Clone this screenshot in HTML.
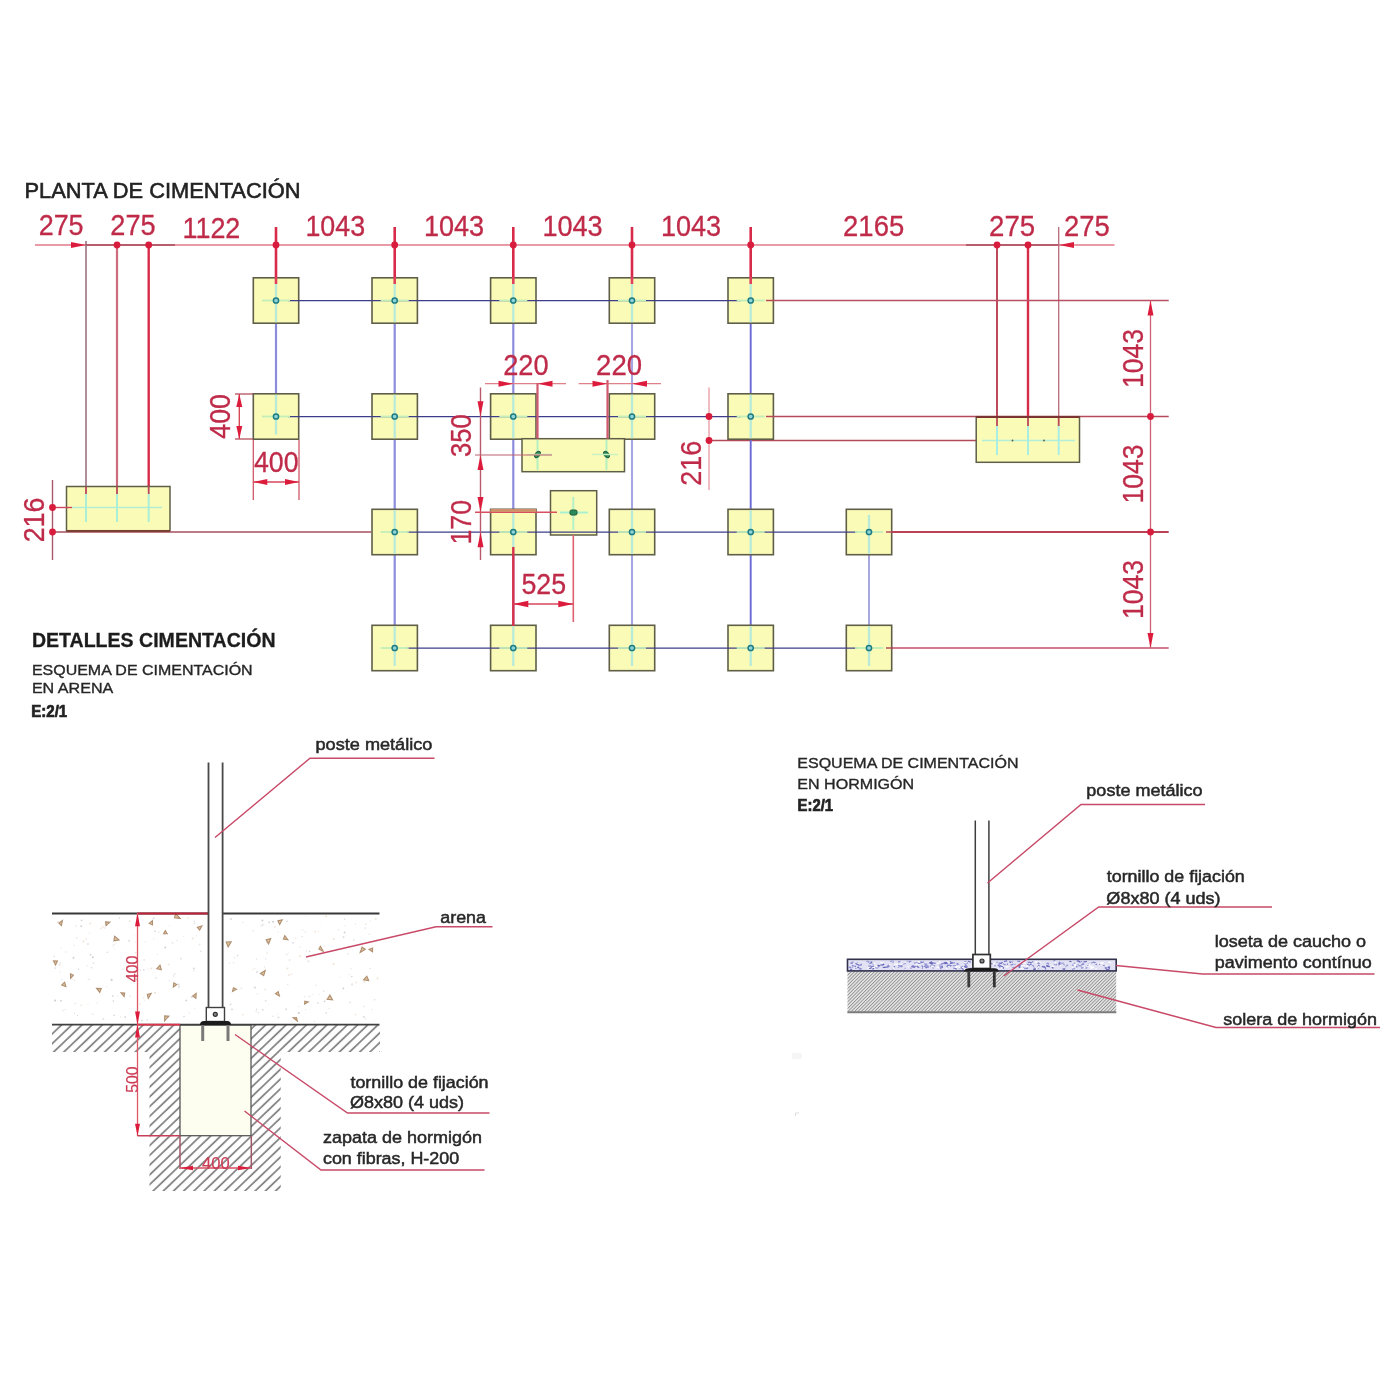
<!DOCTYPE html>
<html lang="es">
<head>
<meta charset="utf-8">
<title>Planta de cimentación</title>
<style>
html,body{margin:0;padding:0;background:#fff;}
body{width:1400px;height:1400px;overflow:hidden;}
svg{display:block;}
svg text{font-family:"Liberation Sans", sans-serif;white-space:pre;}
</style>
</head>
<body>
<svg width="1400" height="1400" viewBox="0 0 1400 1400">
<defs><filter id="soft" x="0" y="0" width="1400" height="1400" filterUnits="userSpaceOnUse"><feGaussianBlur stdDeviation="0.55"/></filter></defs>
<rect width="1400" height="1400" fill="#ffffff"/>
<g id="all" filter="url(#soft)">
<g id="plan">
<text transform="translate(24.51 198.30) scale(0.9591 1)" font-size="22.8" fill="#222222" stroke="#222222" stroke-width="0.6">PLANTA DE CIMENTACIÓN</text>
<line x1="35" y1="245" x2="1114.5" y2="245" stroke="#e07a88" stroke-width="1.3"/>
<line x1="86" y1="245" x2="175" y2="245" stroke="#a84858" stroke-width="1.6"/>
<line x1="966" y1="245" x2="1059" y2="245" stroke="#a84858" stroke-width="1.5"/>
<line x1="86" y1="241" x2="86" y2="494" stroke="#8a6272" stroke-width="1.4"/>
<line x1="117" y1="245" x2="117" y2="494" stroke="#cc6c7c" stroke-width="2.2"/>
<line x1="148.7" y1="245" x2="148.7" y2="494" stroke="#d82c4a" stroke-width="2.4"/>
<line x1="997" y1="245" x2="997" y2="426" stroke="#b02c40" stroke-width="1.7"/>
<line x1="1028" y1="245" x2="1028" y2="426" stroke="#d82c4a" stroke-width="2.4"/>
<line x1="1058.7" y1="227" x2="1058.7" y2="426" stroke="#b86a7a" stroke-width="1.3"/>
<polygon points="86,245 71,242.0 71,248.0" fill="#dc1e3c"/>
<polygon points="1059,245 1074,242.0 1074,248.0" fill="#dc1e3c"/>
<circle cx="117" cy="245" r="3.4" fill="#d81c3c"/>
<circle cx="148.7" cy="245" r="3.4" fill="#d81c3c"/>
<circle cx="997" cy="245" r="3.4" fill="#d81c3c"/>
<circle cx="1028" cy="245" r="3.4" fill="#d81c3c"/>
<line x1="276" y1="227" x2="276" y2="284" stroke="#d82c4a" stroke-width="2.6"/>
<circle cx="276" cy="245" r="3.4" fill="#d81c3c"/>
<line x1="394.7" y1="227" x2="394.7" y2="284" stroke="#d82c4a" stroke-width="2.6"/>
<circle cx="394.7" cy="245" r="3.4" fill="#d81c3c"/>
<line x1="513.3" y1="227" x2="513.3" y2="284" stroke="#d82c4a" stroke-width="2.6"/>
<circle cx="513.3" cy="245" r="3.4" fill="#d81c3c"/>
<line x1="632" y1="227" x2="632" y2="284" stroke="#d82c4a" stroke-width="2.6"/>
<circle cx="632" cy="245" r="3.4" fill="#d81c3c"/>
<line x1="750.7" y1="227" x2="750.7" y2="284" stroke="#d82c4a" stroke-width="2.6"/>
<circle cx="750.7" cy="245" r="3.4" fill="#d81c3c"/>
<line x1="767" y1="300.5" x2="1168.7" y2="300.5" stroke="#b85064" stroke-width="1.5"/>
<line x1="767" y1="416.5" x2="1168.7" y2="416.5" stroke="#b8485c" stroke-width="1.6"/>
<line x1="709" y1="440.5" x2="982" y2="440.5" stroke="#b4485a" stroke-width="1.6"/>
<line x1="52" y1="532" x2="371" y2="532" stroke="#a8505e" stroke-width="1.6"/>
<line x1="886" y1="532" x2="1168.7" y2="532" stroke="#bc4056" stroke-width="1.8"/>
<line x1="886" y1="648" x2="1168.7" y2="648" stroke="#c45068" stroke-width="1.6"/>
<line x1="276" y1="300.5" x2="276" y2="416.5" stroke="#8c8cdc" stroke-width="2.2"/>
<line x1="394.7" y1="300.5" x2="394.7" y2="648" stroke="#8c8cdc" stroke-width="2.2"/>
<line x1="513.3" y1="300.5" x2="513.3" y2="648" stroke="#8c8cdc" stroke-width="2.2"/>
<line x1="632" y1="300.5" x2="632" y2="648" stroke="#a6a6e2" stroke-width="2.1"/>
<line x1="750.7" y1="300.5" x2="750.7" y2="648" stroke="#6a6ad6" stroke-width="1.9"/>
<line x1="869" y1="532" x2="869" y2="648" stroke="#a8a8e0" stroke-width="2"/>
<rect x="253.3" y="277.8" width="45.4" height="45.4" fill="#fbfbb8" stroke="#5e5e48" stroke-width="1.6"/>
<rect x="372.0" y="277.8" width="45.4" height="45.4" fill="#fbfbb8" stroke="#5e5e48" stroke-width="1.6"/>
<rect x="490.6" y="277.8" width="45.4" height="45.4" fill="#fbfbb8" stroke="#5e5e48" stroke-width="1.6"/>
<rect x="609.3" y="277.8" width="45.4" height="45.4" fill="#fbfbb8" stroke="#5e5e48" stroke-width="1.6"/>
<rect x="728.0" y="277.8" width="45.4" height="45.4" fill="#fbfbb8" stroke="#5e5e48" stroke-width="1.6"/>
<rect x="253.3" y="393.8" width="45.4" height="45.4" fill="#fbfbb8" stroke="#5e5e48" stroke-width="1.6"/>
<rect x="372.0" y="393.8" width="45.4" height="45.4" fill="#fbfbb8" stroke="#5e5e48" stroke-width="1.6"/>
<rect x="490.6" y="393.8" width="45.4" height="45.4" fill="#fbfbb8" stroke="#5e5e48" stroke-width="1.6"/>
<rect x="609.3" y="393.8" width="45.4" height="45.4" fill="#fbfbb8" stroke="#5e5e48" stroke-width="1.6"/>
<rect x="728.0" y="393.8" width="45.4" height="45.4" fill="#fbfbb8" stroke="#5e5e48" stroke-width="1.6"/>
<rect x="372.0" y="509.3" width="45.4" height="45.4" fill="#fbfbb8" stroke="#5e5e48" stroke-width="1.6"/>
<rect x="490.6" y="509.3" width="45.4" height="45.4" fill="#fbfbb8" stroke="#5e5e48" stroke-width="1.6"/>
<rect x="609.3" y="509.3" width="45.4" height="45.4" fill="#fbfbb8" stroke="#5e5e48" stroke-width="1.6"/>
<rect x="728.0" y="509.3" width="45.4" height="45.4" fill="#fbfbb8" stroke="#5e5e48" stroke-width="1.6"/>
<rect x="846.3" y="509.3" width="45.4" height="45.4" fill="#fbfbb8" stroke="#5e5e48" stroke-width="1.6"/>
<rect x="372.0" y="625.3" width="45.4" height="45.4" fill="#fbfbb8" stroke="#5e5e48" stroke-width="1.6"/>
<rect x="490.6" y="625.3" width="45.4" height="45.4" fill="#fbfbb8" stroke="#5e5e48" stroke-width="1.6"/>
<rect x="609.3" y="625.3" width="45.4" height="45.4" fill="#fbfbb8" stroke="#5e5e48" stroke-width="1.6"/>
<rect x="728.0" y="625.3" width="45.4" height="45.4" fill="#fbfbb8" stroke="#5e5e48" stroke-width="1.6"/>
<rect x="846.3" y="625.3" width="45.4" height="45.4" fill="#fbfbb8" stroke="#5e5e48" stroke-width="1.6"/>
<rect x="66.5" y="486.5" width="103.5" height="44.2" fill="#fbfbb8" stroke="#5e5e48" stroke-width="1.5"/>
<rect x="522" y="438.7" width="102.5" height="33.0" fill="#fbfbb8" stroke="#5e5e48" stroke-width="1.5"/>
<rect x="550.5" y="490.7" width="46.2" height="44.3" fill="#fbfbb8" stroke="#5e5e48" stroke-width="1.5"/>
<rect x="976.2" y="416.7" width="103.3" height="45.6" fill="#fbfbb8" stroke="#5e5e48" stroke-width="1.5"/>
<line x1="288" y1="300.5" x2="740.7" y2="300.5" stroke="#3e3e8a" stroke-width="1.25"/>
<line x1="288" y1="416.5" x2="740.7" y2="416.5" stroke="#3e3e8a" stroke-width="1.25"/>
<line x1="406.7" y1="532" x2="857" y2="532" stroke="#3e3e8a" stroke-width="1.25"/>
<line x1="406.7" y1="648" x2="857" y2="648" stroke="#3e3e8a" stroke-width="1.25"/>
<line x1="262" y1="300.5" x2="290" y2="300.5" stroke="#c2eeba" stroke-width="1.8"/>
<line x1="276" y1="283.5" x2="276" y2="322.2" stroke="#b8ead8" stroke-width="2.3"/>
<circle cx="276" cy="300.5" r="2.6" fill="#8fd4d8" stroke="#1e7c80" stroke-width="1.5"/>
<line x1="380.7" y1="300.5" x2="408.7" y2="300.5" stroke="#c2eeba" stroke-width="1.8"/>
<line x1="394.7" y1="283.5" x2="394.7" y2="322.2" stroke="#b8ead8" stroke-width="2.3"/>
<circle cx="394.7" cy="300.5" r="2.6" fill="#8fd4d8" stroke="#1e7c80" stroke-width="1.5"/>
<line x1="499.29999999999995" y1="300.5" x2="527.3" y2="300.5" stroke="#c2eeba" stroke-width="1.8"/>
<line x1="513.3" y1="283.5" x2="513.3" y2="322.2" stroke="#b8ead8" stroke-width="2.3"/>
<circle cx="513.3" cy="300.5" r="2.6" fill="#8fd4d8" stroke="#1e7c80" stroke-width="1.5"/>
<line x1="618" y1="300.5" x2="646" y2="300.5" stroke="#c2eeba" stroke-width="1.8"/>
<line x1="632" y1="283.5" x2="632" y2="322.2" stroke="#b8ead8" stroke-width="2.3"/>
<circle cx="632" cy="300.5" r="2.6" fill="#8fd4d8" stroke="#1e7c80" stroke-width="1.5"/>
<line x1="736.7" y1="300.5" x2="764.7" y2="300.5" stroke="#c2eeba" stroke-width="1.8"/>
<line x1="750.7" y1="283.5" x2="750.7" y2="322.2" stroke="#b8ead8" stroke-width="2.3"/>
<circle cx="750.7" cy="300.5" r="2.6" fill="#8fd4d8" stroke="#1e7c80" stroke-width="1.5"/>
<line x1="262" y1="416.5" x2="290" y2="416.5" stroke="#c2eeba" stroke-width="1.8"/>
<line x1="276" y1="394.8" x2="276" y2="434.5" stroke="#b8ead8" stroke-width="2.3"/>
<circle cx="276" cy="416.5" r="2.6" fill="#8fd4d8" stroke="#1e7c80" stroke-width="1.5"/>
<line x1="380.7" y1="416.5" x2="408.7" y2="416.5" stroke="#c2eeba" stroke-width="1.8"/>
<line x1="394.7" y1="394.8" x2="394.7" y2="438.2" stroke="#b8ead8" stroke-width="2.3"/>
<circle cx="394.7" cy="416.5" r="2.6" fill="#8fd4d8" stroke="#1e7c80" stroke-width="1.5"/>
<line x1="499.29999999999995" y1="416.5" x2="527.3" y2="416.5" stroke="#c2eeba" stroke-width="1.8"/>
<line x1="513.3" y1="394.8" x2="513.3" y2="438.2" stroke="#b8ead8" stroke-width="2.3"/>
<circle cx="513.3" cy="416.5" r="2.6" fill="#8fd4d8" stroke="#1e7c80" stroke-width="1.5"/>
<line x1="618" y1="416.5" x2="646" y2="416.5" stroke="#c2eeba" stroke-width="1.8"/>
<line x1="632" y1="394.8" x2="632" y2="438.2" stroke="#b8ead8" stroke-width="2.3"/>
<circle cx="632" cy="416.5" r="2.6" fill="#8fd4d8" stroke="#1e7c80" stroke-width="1.5"/>
<line x1="736.7" y1="416.5" x2="764.7" y2="416.5" stroke="#c2eeba" stroke-width="1.8"/>
<line x1="750.7" y1="394.8" x2="750.7" y2="438.2" stroke="#b8ead8" stroke-width="2.3"/>
<circle cx="750.7" cy="416.5" r="2.6" fill="#8fd4d8" stroke="#1e7c80" stroke-width="1.5"/>
<line x1="380.7" y1="532" x2="408.7" y2="532" stroke="#c2eeba" stroke-width="1.8"/>
<line x1="394.7" y1="510.3" x2="394.7" y2="553.7" stroke="#b8ead8" stroke-width="2.3"/>
<circle cx="394.7" cy="532" r="2.6" fill="#8fd4d8" stroke="#1e7c80" stroke-width="1.5"/>
<line x1="499.29999999999995" y1="532" x2="527.3" y2="532" stroke="#c2eeba" stroke-width="1.8"/>
<line x1="513.3" y1="510.3" x2="513.3" y2="553.7" stroke="#b8ead8" stroke-width="2.3"/>
<circle cx="513.3" cy="532" r="2.6" fill="#8fd4d8" stroke="#1e7c80" stroke-width="1.5"/>
<line x1="618" y1="532" x2="646" y2="532" stroke="#c2eeba" stroke-width="1.8"/>
<line x1="632" y1="510.3" x2="632" y2="553.7" stroke="#b8ead8" stroke-width="2.3"/>
<circle cx="632" cy="532" r="2.6" fill="#8fd4d8" stroke="#1e7c80" stroke-width="1.5"/>
<line x1="736.7" y1="532" x2="764.7" y2="532" stroke="#c2eeba" stroke-width="1.8"/>
<line x1="750.7" y1="510.3" x2="750.7" y2="553.7" stroke="#b8ead8" stroke-width="2.3"/>
<circle cx="750.7" cy="532" r="2.6" fill="#8fd4d8" stroke="#1e7c80" stroke-width="1.5"/>
<line x1="855" y1="532" x2="883" y2="532" stroke="#c2eeba" stroke-width="1.8"/>
<line x1="869" y1="515" x2="869" y2="553.7" stroke="#b8ead8" stroke-width="2.3"/>
<circle cx="869" cy="532" r="2.6" fill="#8fd4d8" stroke="#1e7c80" stroke-width="1.5"/>
<line x1="380.7" y1="648" x2="408.7" y2="648" stroke="#c2eeba" stroke-width="1.8"/>
<line x1="394.7" y1="626.3" x2="394.7" y2="666" stroke="#b8ead8" stroke-width="2.3"/>
<circle cx="394.7" cy="648" r="2.6" fill="#8fd4d8" stroke="#1e7c80" stroke-width="1.5"/>
<line x1="499.29999999999995" y1="648" x2="527.3" y2="648" stroke="#c2eeba" stroke-width="1.8"/>
<line x1="513.3" y1="626.3" x2="513.3" y2="666" stroke="#b8ead8" stroke-width="2.3"/>
<circle cx="513.3" cy="648" r="2.6" fill="#8fd4d8" stroke="#1e7c80" stroke-width="1.5"/>
<line x1="618" y1="648" x2="646" y2="648" stroke="#c2eeba" stroke-width="1.8"/>
<line x1="632" y1="626.3" x2="632" y2="666" stroke="#b8ead8" stroke-width="2.3"/>
<circle cx="632" cy="648" r="2.6" fill="#8fd4d8" stroke="#1e7c80" stroke-width="1.5"/>
<line x1="736.7" y1="648" x2="764.7" y2="648" stroke="#c2eeba" stroke-width="1.8"/>
<line x1="750.7" y1="626.3" x2="750.7" y2="666" stroke="#b8ead8" stroke-width="2.3"/>
<circle cx="750.7" cy="648" r="2.6" fill="#8fd4d8" stroke="#1e7c80" stroke-width="1.5"/>
<line x1="855" y1="648" x2="883" y2="648" stroke="#c2eeba" stroke-width="1.8"/>
<line x1="869" y1="626.3" x2="869" y2="666" stroke="#b8ead8" stroke-width="2.3"/>
<circle cx="869" cy="648" r="2.6" fill="#8fd4d8" stroke="#1e7c80" stroke-width="1.5"/>
<line x1="766" y1="300.5" x2="774" y2="300.5" stroke="#b8485c" stroke-width="1.5"/>
<line x1="766" y1="416.5" x2="774" y2="416.5" stroke="#b8485c" stroke-width="1.5"/>
<line x1="886" y1="532" x2="893" y2="532" stroke="#b8485c" stroke-width="1.5"/>
<line x1="886" y1="648" x2="893" y2="648" stroke="#b8485c" stroke-width="1.5"/>
<line x1="276" y1="277" x2="276" y2="284" stroke="#e04058" stroke-width="2.6"/>
<line x1="394.7" y1="277" x2="394.7" y2="284" stroke="#e04058" stroke-width="2.6"/>
<line x1="513.3" y1="277" x2="513.3" y2="284" stroke="#e04058" stroke-width="2.6"/>
<line x1="632" y1="277" x2="632" y2="284" stroke="#e04058" stroke-width="2.6"/>
<line x1="750.7" y1="277" x2="750.7" y2="284" stroke="#e04058" stroke-width="2.6"/>
<line x1="52.5" y1="507.5" x2="72" y2="507.5" stroke="#d04a5a" stroke-width="1.4"/>
<line x1="72" y1="507.5" x2="162" y2="507.5" stroke="#b4eed2" stroke-width="1.4"/>
<line x1="86" y1="494" x2="86" y2="522" stroke="#aaeed8" stroke-width="2"/>
<line x1="86" y1="486.5" x2="86" y2="494" stroke="#b84858" stroke-width="1.8"/>
<line x1="117" y1="494" x2="117" y2="522" stroke="#aaeed8" stroke-width="2"/>
<line x1="117" y1="486.5" x2="117" y2="494" stroke="#b84858" stroke-width="1.8"/>
<line x1="148.7" y1="494" x2="148.7" y2="522" stroke="#aaeed8" stroke-width="2"/>
<line x1="148.7" y1="486.5" x2="148.7" y2="494" stroke="#b84858" stroke-width="1.8"/>
<line x1="66.5" y1="531" x2="170" y2="531" stroke="#7a4030" stroke-width="2"/>
<line x1="982" y1="440.5" x2="1075" y2="440.5" stroke="#b4eed6" stroke-width="1.4"/>
<line x1="997" y1="426" x2="997" y2="455" stroke="#a8eee4" stroke-width="2"/>
<line x1="997" y1="416.7" x2="997" y2="426" stroke="#b84858" stroke-width="1.8"/>
<line x1="1028" y1="426" x2="1028" y2="455" stroke="#a8eee4" stroke-width="2"/>
<line x1="1028" y1="416.7" x2="1028" y2="426" stroke="#b84858" stroke-width="1.8"/>
<line x1="1058.7" y1="426" x2="1058.7" y2="455" stroke="#a8eee4" stroke-width="2"/>
<line x1="1058.7" y1="416.7" x2="1058.7" y2="426" stroke="#b84858" stroke-width="1.8"/>
<circle cx="1012.5" cy="440.5" r="0.9" fill="#5a5a3c"/>
<circle cx="1044" cy="440.5" r="0.9" fill="#5a5a3c"/>
<line x1="976" y1="417" x2="1079.5" y2="417" stroke="#7a3030" stroke-width="2"/>
<line x1="537.5" y1="440" x2="537.5" y2="470" stroke="#b4f0c0" stroke-width="2"/>
<ellipse cx="537.5" cy="454.5" rx="3.6" ry="2.2" fill="#2a8a5a" stroke="#206040" stroke-width="1" transform="rotate(-50 537.5 454.5)"/>
<line x1="606.5" y1="440" x2="606.5" y2="470" stroke="#b4f0c0" stroke-width="2"/>
<ellipse cx="606.5" cy="454.5" rx="3.6" ry="2.2" fill="#2a8a5a" stroke="#206040" stroke-width="1" transform="rotate(50 606.5 454.5)"/>
<line x1="527" y1="454.5" x2="552" y2="454.5" stroke="#c8f0c0" stroke-width="1.5"/>
<line x1="592" y1="454.5" x2="618" y2="454.5" stroke="#c8f0c0" stroke-width="1.5"/>
<line x1="560" y1="512.5" x2="588" y2="512.5" stroke="#a8f0d0" stroke-width="2"/>
<line x1="573.3" y1="497" x2="573.3" y2="530" stroke="#b4f0c8" stroke-width="2"/>
<rect x="570" y="510" width="7" height="5" rx="1.5" fill="#2a8a5a" stroke="#1e5a3c" stroke-width="1"/>
<text transform="translate(38.64 235.40) scale(0.9428 1)" font-size="28.6" fill="#bf2c4a" stroke="#bf2c4a" stroke-width="0.3">275</text>
<text transform="translate(110.33 235.40) scale(0.9495 1)" font-size="28.6" fill="#bf2c4a" stroke="#bf2c4a" stroke-width="0.3">275</text>
<text transform="translate(182.45 237.50) scale(0.9416 1)" font-size="28.6" fill="#bf2c4a" stroke="#bf2c4a" stroke-width="0.3">1122</text>
<text transform="translate(305.45 235.60) scale(0.9387 1)" font-size="28.6" fill="#bf2c4a" stroke="#bf2c4a" stroke-width="0.3">1043</text>
<text transform="translate(423.94 235.60) scale(0.9470 1)" font-size="28.6" fill="#bf2c4a" stroke="#bf2c4a" stroke-width="0.3">1043</text>
<text transform="translate(542.44 235.60) scale(0.9470 1)" font-size="28.6" fill="#bf2c4a" stroke="#bf2c4a" stroke-width="0.3">1043</text>
<text transform="translate(660.94 235.60) scale(0.9470 1)" font-size="28.6" fill="#bf2c4a" stroke="#bf2c4a" stroke-width="0.3">1043</text>
<text transform="translate(843.12 235.60) scale(0.9593 1)" font-size="28.6" fill="#bf2c4a" stroke="#bf2c4a" stroke-width="0.3">2165</text>
<text transform="translate(989.11 235.60) scale(0.9650 1)" font-size="28.6" fill="#bf2c4a" stroke="#bf2c4a" stroke-width="0.3">275</text>
<text transform="translate(1064.12 235.60) scale(0.9583 1)" font-size="28.6" fill="#bf2c4a" stroke="#bf2c4a" stroke-width="0.3">275</text>
<line x1="235" y1="394" x2="253" y2="394" stroke="#b04050" stroke-width="1.2"/>
<line x1="235" y1="439" x2="253" y2="439" stroke="#b04050" stroke-width="1.2"/>
<line x1="239.3" y1="394" x2="239.3" y2="439" stroke="#d84858" stroke-width="1.4"/>
<polygon points="239.3,394 236.3,407 242.3,407" fill="#dc1e3c"/>
<polygon points="239.3,439 236.3,426 242.3,426" fill="#dc1e3c"/>
<text transform="translate(229.50 438.82) rotate(-90) scale(0.9403 1)" font-size="28.6" fill="#bf2c4a" stroke="#bf2c4a" stroke-width="0.3">400</text>
<line x1="253.3" y1="440" x2="253.3" y2="500" stroke="#d05868" stroke-width="1.3"/>
<line x1="299" y1="440" x2="299" y2="500" stroke="#d05868" stroke-width="1.3"/>
<line x1="253.3" y1="482" x2="299" y2="482" stroke="#d84858" stroke-width="1.4"/>
<polygon points="253.3,482 267.3,479.0 267.3,485.0" fill="#dc1e3c"/>
<polygon points="299,482 285,479.0 285,485.0" fill="#dc1e3c"/>
<text transform="translate(253.89 472.30) scale(0.9359 1)" font-size="28.6" fill="#bf2c4a" stroke="#bf2c4a" stroke-width="0.3">400</text>
<line x1="52.5" y1="480" x2="52.5" y2="560" stroke="#a85668" stroke-width="1.4"/>
<circle cx="52.5" cy="507.5" r="3.4" fill="#d81c3c"/>
<circle cx="52.5" cy="532" r="3.4" fill="#d81c3c"/>
<text transform="translate(44.30 542.35) rotate(-90) scale(0.9395 1)" font-size="28.6" fill="#bf2c4a" stroke="#bf2c4a" stroke-width="0.3">216</text>
<line x1="485" y1="383.7" x2="566" y2="383.7" stroke="#e08088" stroke-width="1.3"/>
<polygon points="513.5,383.7 498.5,380.7 498.5,386.7" fill="#dc1e3c"/>
<polygon points="537.5,383.7 552.5,380.7 552.5,386.7" fill="#dc1e3c"/>
<line x1="578.7" y1="383.7" x2="661" y2="383.7" stroke="#e08088" stroke-width="1.3"/>
<polygon points="607.5,383.7 592.5,380.7 592.5,386.7" fill="#dc1e3c"/>
<polygon points="632,383.7 647,380.7 647,386.7" fill="#dc1e3c"/>
<line x1="537.5" y1="383" x2="537.5" y2="438.5" stroke="#d05a6e" stroke-width="2.2"/>
<line x1="607.5" y1="380" x2="607.5" y2="438.5" stroke="#d05a6e" stroke-width="2.2"/>
<text transform="translate(503.13 374.60) scale(0.9521 1)" font-size="28.6" fill="#bf2c4a" stroke="#bf2c4a" stroke-width="0.3">220</text>
<text transform="translate(596.11 374.60) scale(0.9632 1)" font-size="28.6" fill="#bf2c4a" stroke="#bf2c4a" stroke-width="0.3">220</text>
<line x1="480.5" y1="387.5" x2="480.5" y2="560" stroke="#b85a6c" stroke-width="1.4"/>
<polygon points="480.5,416.3 477.5,401.3 483.5,401.3" fill="#dc1e3c"/>
<polygon points="480.5,455 477.5,470 483.5,470" fill="#dc1e3c"/>
<polygon points="480.5,512 477.5,497 483.5,497" fill="#dc1e3c"/>
<polygon points="480.5,532.3 477.5,547.3 483.5,547.3" fill="#dc1e3c"/>
<line x1="475" y1="455" x2="552" y2="455" stroke="#c06070" stroke-width="1.2"/>
<line x1="475" y1="512.3" x2="557" y2="512.3" stroke="#d85060" stroke-width="1.5"/>
<line x1="490.5" y1="510.5" x2="536" y2="510.5" stroke="#d0906a" stroke-width="3"/>
<text transform="translate(471.20 456.98) rotate(-90) scale(0.8965 1)" font-size="28.6" fill="#bf2c4a" stroke="#bf2c4a" stroke-width="0.3">350</text>
<text transform="translate(471.20 544.54) rotate(-90) scale(0.9342 1)" font-size="28.6" fill="#bf2c4a" stroke="#bf2c4a" stroke-width="0.3">170</text>
<line x1="513.3" y1="547" x2="513.3" y2="626" stroke="#d8304a" stroke-width="2.4"/>
<line x1="573.3" y1="535" x2="573.3" y2="622" stroke="#e06070" stroke-width="1.6"/>
<line x1="513.3" y1="604" x2="573.3" y2="604" stroke="#d84858" stroke-width="1.5"/>
<polygon points="513.3,604 528.3,600.75 528.3,607.25" fill="#dc1e3c"/>
<polygon points="573.3,604 558.3,600.75 558.3,607.25" fill="#dc1e3c"/>
<text transform="translate(521.43 594.20) scale(0.9367 1)" font-size="28.6" fill="#bf2c4a" stroke="#bf2c4a" stroke-width="0.3">525</text>
<line x1="709" y1="387.5" x2="709" y2="490" stroke="#e8a0a8" stroke-width="1.4"/>
<circle cx="709" cy="416.5" r="3.4" fill="#d81c3c"/>
<circle cx="709" cy="440.5" r="3.4" fill="#d81c3c"/>
<text transform="translate(701.00 485.86) rotate(-90) scale(0.9440 1)" font-size="28.6" fill="#bf2c4a" stroke="#bf2c4a" stroke-width="0.3">216</text>
<line x1="1150.5" y1="300.5" x2="1150.5" y2="648" stroke="#d06074" stroke-width="1.3"/>
<polygon points="1150.5,300.5 1147.5,315.5 1153.5,315.5" fill="#dc1e3c"/>
<polygon points="1150.5,648 1147.5,633 1153.5,633" fill="#dc1e3c"/>
<circle cx="1150.5" cy="416.5" r="3.4" fill="#d81c3c"/>
<circle cx="1150.5" cy="532" r="3.4" fill="#d81c3c"/>
<text transform="translate(1142.50 388.03) rotate(-90) scale(0.9304 1)" font-size="28.6" fill="#bf2c4a" stroke="#bf2c4a" stroke-width="0.3">1043</text>
<text transform="translate(1142.50 503.53) rotate(-90) scale(0.9304 1)" font-size="28.6" fill="#bf2c4a" stroke="#bf2c4a" stroke-width="0.3">1043</text>
<text transform="translate(1142.50 619.03) rotate(-90) scale(0.9304 1)" font-size="28.6" fill="#bf2c4a" stroke="#bf2c4a" stroke-width="0.3">1043</text>
</g>
<text transform="translate(31.89 647.00) scale(0.9494 1)" font-size="20.6" fill="#1c1c1c" stroke="#1c1c1c" stroke-width="0.3" font-weight="700">DETALLES CIMENTACIÓN</text>
<text transform="translate(31.89 674.70) scale(1.0879 1)" font-size="14.7" fill="#282828" stroke="#282828" stroke-width="0.35">ESQUEMA DE CIMENTACIÓN</text>
<text transform="translate(31.88 692.50) scale(1.0958 1)" font-size="14.7" fill="#282828" stroke="#282828" stroke-width="0.35">EN ARENA</text>
<text transform="translate(31.29 717.30) scale(0.9453 1)" font-size="15.9" fill="#222222" stroke="#222222" stroke-width="0.7" font-weight="700">E:2/1</text>
<text transform="translate(797.29 767.80) scale(1.0903 1)" font-size="14.7" fill="#282828" stroke="#282828" stroke-width="0.35">ESQUEMA DE CIMENTACIÓN</text>
<text transform="translate(797.28 789.00) scale(1.0939 1)" font-size="14.7" fill="#282828" stroke="#282828" stroke-width="0.35">EN HORMIGÓN</text>
<text transform="translate(797.61 811.00) scale(0.9316 1)" font-size="15.9" fill="#222222" stroke="#222222" stroke-width="0.7" font-weight="700">E:2/1</text>
<defs>
<pattern id="h1" width="12" height="7.05" patternUnits="userSpaceOnUse" patternTransform="rotate(-43.7)"><line x1="-1" y1="1" x2="13" y2="1" stroke="#7e7e7e" stroke-width="1.7"/></pattern>
<pattern id="h2" width="8" height="2.35" patternUnits="userSpaceOnUse" patternTransform="rotate(-45)"><rect width="8" height="2.35" fill="#ececec"/><line x1="-1" y1="1.17" x2="9" y2="1.17" stroke="#8e8e8e" stroke-width="0.95"/></pattern>
</defs>
<g id="d1">
<path d="M52,1025 H380 V1052 H280.7 V1191 H149.5 V1052 H52 Z" fill="url(#h1)"/>
<rect x="180" y="1025" width="71.0" height="110.7" fill="#fefef0" stroke="#585858" stroke-width="1.3"/>
<circle cx="158.9" cy="932.0" r="0.6" fill="#d0d0d4"/>
<circle cx="320.1" cy="926.0" r="0.6" fill="#f2e8de"/>
<circle cx="194.5" cy="923.4" r="0.9" fill="#e4e4ea"/>
<circle cx="73.2" cy="975.9" r="0.9" fill="#ececf0"/>
<circle cx="242.9" cy="922.6" r="0.8" fill="#f2e8de"/>
<circle cx="370.3" cy="920.9" r="0.7" fill="#ececf0"/>
<circle cx="100.7" cy="928.5" r="0.9" fill="#f0e4d8"/>
<circle cx="275.0" cy="926.9" r="0.9" fill="#f2e8de"/>
<circle cx="174.7" cy="974.1" r="0.9" fill="#e4e4ea"/>
<circle cx="254.6" cy="968.6" r="0.8" fill="#f2e8de"/>
<circle cx="155.8" cy="978.1" r="0.8" fill="#dcdce2"/>
<circle cx="134.5" cy="935.1" r="0.6" fill="#ececf0"/>
<circle cx="151.3" cy="968.5" r="1.0" fill="#f0e4d8"/>
<circle cx="147.3" cy="1019.9" r="0.9" fill="#e4e4ea"/>
<circle cx="107.4" cy="952.3" r="0.8" fill="#dcdce2"/>
<circle cx="365.7" cy="924.2" r="0.9" fill="#f2e8de"/>
<circle cx="337.7" cy="949.3" r="0.8" fill="#d0d0d4"/>
<circle cx="76.3" cy="925.9" r="0.8" fill="#f0e4d8"/>
<circle cx="269.2" cy="922.4" r="0.8" fill="#d0d0d4"/>
<circle cx="241.3" cy="988.2" r="0.7" fill="#dcdce2"/>
<circle cx="179.0" cy="986.9" r="1.1" fill="#e4e4ea"/>
<circle cx="169.2" cy="980.8" r="0.6" fill="#dcdce2"/>
<circle cx="302.9" cy="929.7" r="0.8" fill="#ececf0"/>
<circle cx="351.0" cy="968.6" r="0.8" fill="#ececf0"/>
<circle cx="232.0" cy="1009.6" r="1.0" fill="#dcdce2"/>
<circle cx="144.2" cy="960.0" r="0.9" fill="#f0e4d8"/>
<circle cx="177.3" cy="940.5" r="0.7" fill="#e4e4ea"/>
<circle cx="129.2" cy="940.7" r="1.0" fill="#dcdce2"/>
<circle cx="113.1" cy="945.9" r="0.8" fill="#ececf0"/>
<circle cx="173.6" cy="976.0" r="0.9" fill="#ececf0"/>
<circle cx="273.1" cy="921.7" r="1.0" fill="#d0d0d4"/>
<circle cx="181.1" cy="958.3" r="0.8" fill="#e4e4ea"/>
<circle cx="183.7" cy="936.2" r="0.8" fill="#ececf0"/>
<circle cx="89.6" cy="979.7" r="0.6" fill="#e4e4ea"/>
<circle cx="103.0" cy="926.8" r="0.9" fill="#f0e4d8"/>
<circle cx="76.8" cy="938.0" r="0.7" fill="#dcdce2"/>
<circle cx="135.7" cy="952.8" r="0.8" fill="#f0e4d8"/>
<circle cx="91.4" cy="967.7" r="0.8" fill="#dcdce2"/>
<circle cx="155.0" cy="931.3" r="0.8" fill="#d0d0d4"/>
<circle cx="139.8" cy="1003.9" r="0.9" fill="#ececf0"/>
<circle cx="120.5" cy="1016.9" r="0.7" fill="#f0e4d8"/>
<circle cx="230.0" cy="918.9" r="0.7" fill="#f2e8de"/>
<circle cx="262.3" cy="925.6" r="0.9" fill="#f0e4d8"/>
<circle cx="348.3" cy="953.7" r="0.9" fill="#ececf0"/>
<circle cx="306.4" cy="950.9" r="0.9" fill="#ececf0"/>
<circle cx="309.4" cy="996.4" r="1.0" fill="#ececf0"/>
<circle cx="319.1" cy="994.4" r="0.7" fill="#ececf0"/>
<circle cx="374.6" cy="999.8" r="0.7" fill="#dcdce2"/>
<circle cx="278.4" cy="1017.4" r="1.0" fill="#dcdce2"/>
<circle cx="288.3" cy="953.0" r="0.6" fill="#f0e4d8"/>
<circle cx="87.1" cy="965.8" r="0.7" fill="#f0e4d8"/>
<circle cx="256.2" cy="1011.4" r="0.8" fill="#e4e4ea"/>
<circle cx="265.6" cy="1000.8" r="1.0" fill="#e4e4ea"/>
<circle cx="92.8" cy="957.2" r="1.0" fill="#d0d0d4"/>
<circle cx="309.7" cy="951.2" r="0.8" fill="#d0d0d4"/>
<circle cx="184.0" cy="1016.4" r="0.7" fill="#d0d0d4"/>
<circle cx="375.8" cy="918.9" r="1.1" fill="#f2e8de"/>
<circle cx="315.3" cy="931.5" r="1.1" fill="#f2e8de"/>
<circle cx="267.0" cy="953.1" r="0.9" fill="#f2e8de"/>
<circle cx="60.9" cy="1000.7" r="0.9" fill="#d0d0d4"/>
<circle cx="194.6" cy="1008.4" r="0.6" fill="#ececf0"/>
<circle cx="122.9" cy="969.1" r="0.8" fill="#f2e8de"/>
<circle cx="230.4" cy="1004.4" r="1.1" fill="#e4e4ea"/>
<circle cx="168.6" cy="964.6" r="1.0" fill="#f2e8de"/>
<circle cx="338.5" cy="929.9" r="0.9" fill="#ececf0"/>
<circle cx="60.1" cy="962.7" r="0.9" fill="#ececf0"/>
<circle cx="305.4" cy="931.9" r="0.8" fill="#ececf0"/>
<circle cx="289.0" cy="975.0" r="0.9" fill="#f0e4d8"/>
<circle cx="305.6" cy="1009.6" r="0.7" fill="#e4e4ea"/>
<circle cx="143.7" cy="997.9" r="0.8" fill="#f2e8de"/>
<circle cx="63.0" cy="1010.8" r="0.8" fill="#e4e4ea"/>
<circle cx="252.5" cy="969.6" r="0.7" fill="#f2e8de"/>
<circle cx="143.8" cy="969.9" r="0.9" fill="#dcdce2"/>
<circle cx="134.2" cy="971.5" r="1.1" fill="#f0e4d8"/>
<circle cx="343.3" cy="937.5" r="0.7" fill="#dcdce2"/>
<circle cx="93.4" cy="962.9" r="0.9" fill="#e4e4ea"/>
<circle cx="192.8" cy="938.5" r="1.0" fill="#f0e4d8"/>
<circle cx="344.6" cy="932.4" r="0.9" fill="#d0d0d4"/>
<circle cx="172.6" cy="942.8" r="1.1" fill="#ececf0"/>
<circle cx="125.1" cy="1017.0" r="1.0" fill="#dcdce2"/>
<circle cx="106.7" cy="986.8" r="0.7" fill="#ececf0"/>
<circle cx="193.8" cy="970.7" r="0.8" fill="#f0e4d8"/>
<circle cx="169.5" cy="925.8" r="0.6" fill="#f0e4d8"/>
<circle cx="233.5" cy="962.7" r="0.8" fill="#e4e4ea"/>
<circle cx="365.3" cy="928.0" r="1.1" fill="#ececf0"/>
<circle cx="87.9" cy="944.1" r="1.1" fill="#e4e4ea"/>
<circle cx="112.8" cy="996.1" r="1.0" fill="#dcdce2"/>
<circle cx="273.0" cy="1016.3" r="0.7" fill="#dcdce2"/>
<circle cx="351.8" cy="976.5" r="0.8" fill="#d0d0d4"/>
<circle cx="144.4" cy="1000.8" r="0.8" fill="#ececf0"/>
<circle cx="77.5" cy="1015.5" r="0.6" fill="#d0d0d4"/>
<circle cx="138.4" cy="980.5" r="0.6" fill="#ececf0"/>
<circle cx="333.5" cy="964.1" r="1.1" fill="#f0e4d8"/>
<circle cx="189.4" cy="1013.0" r="0.7" fill="#f2e8de"/>
<circle cx="89.5" cy="933.1" r="0.7" fill="#e4e4ea"/>
<circle cx="356.0" cy="982.6" r="1.0" fill="#f2e8de"/>
<circle cx="147.9" cy="969.0" r="0.7" fill="#ececf0"/>
<circle cx="314.4" cy="1021.4" r="0.6" fill="#e4e4ea"/>
<circle cx="291.5" cy="974.4" r="0.9" fill="#ececf0"/>
<circle cx="133.6" cy="963.4" r="1.0" fill="#d0d0d4"/>
<circle cx="194.0" cy="968.5" r="1.1" fill="#dcdce2"/>
<circle cx="153.7" cy="938.8" r="0.8" fill="#ececf0"/>
<circle cx="323.7" cy="990.9" r="0.7" fill="#d0d0d4"/>
<circle cx="374.6" cy="1020.1" r="0.6" fill="#ececf0"/>
<circle cx="256.6" cy="1009.3" r="0.7" fill="#dcdce2"/>
<circle cx="81.4" cy="1005.2" r="0.9" fill="#f2e8de"/>
<circle cx="145.3" cy="941.7" r="0.6" fill="#f0e4d8"/>
<circle cx="114.1" cy="944.5" r="0.7" fill="#e4e4ea"/>
<circle cx="365.6" cy="1019.1" r="0.8" fill="#f2e8de"/>
<circle cx="65.2" cy="1009.5" r="0.8" fill="#ececf0"/>
<circle cx="54.3" cy="956.5" r="0.7" fill="#dcdce2"/>
<circle cx="266.5" cy="942.3" r="0.6" fill="#e4e4ea"/>
<circle cx="318.7" cy="931.2" r="0.6" fill="#f2e8de"/>
<circle cx="61.3" cy="948.2" r="0.6" fill="#ececf0"/>
<circle cx="364.3" cy="1006.4" r="0.9" fill="#ececf0"/>
<circle cx="286.0" cy="1009.2" r="1.0" fill="#dcdce2"/>
<circle cx="287.5" cy="968.4" r="1.0" fill="#f0e4d8"/>
<circle cx="262.4" cy="920.6" r="1.0" fill="#d0d0d4"/>
<circle cx="257.3" cy="993.8" r="0.7" fill="#f2e8de"/>
<circle cx="324.5" cy="1001.3" r="0.9" fill="#d0d0d4"/>
<circle cx="343.3" cy="988.4" r="0.9" fill="#d0d0d4"/>
<circle cx="81.6" cy="920.4" r="0.8" fill="#d0d0d4"/>
<circle cx="88.0" cy="1004.6" r="0.6" fill="#f2e8de"/>
<circle cx="60.1" cy="972.3" r="0.8" fill="#ececf0"/>
<circle cx="55.1" cy="1000.6" r="1.1" fill="#d0d0d4"/>
<circle cx="344.9" cy="925.7" r="0.6" fill="#f2e8de"/>
<circle cx="292.7" cy="942.7" r="1.0" fill="#e4e4ea"/>
<circle cx="130.1" cy="996.2" r="1.0" fill="#ececf0"/>
<circle cx="370.1" cy="968.4" r="0.6" fill="#dcdce2"/>
<circle cx="349.0" cy="946.5" r="0.9" fill="#e4e4ea"/>
<circle cx="262.3" cy="924.2" r="0.8" fill="#ececf0"/>
<circle cx="265.1" cy="989.4" r="0.9" fill="#f2e8de"/>
<circle cx="58.0" cy="922.4" r="1.1" fill="#f0e4d8"/>
<circle cx="86.2" cy="939.1" r="0.7" fill="#dcdce2"/>
<circle cx="343.5" cy="937.1" r="1.1" fill="#e4e4ea"/>
<circle cx="59.7" cy="964.7" r="1.1" fill="#f2e8de"/>
<circle cx="199.6" cy="944.5" r="1.1" fill="#ececf0"/>
<circle cx="355.5" cy="923.9" r="0.7" fill="#e4e4ea"/>
<circle cx="97.0" cy="1002.9" r="0.7" fill="#f2e8de"/>
<circle cx="90.5" cy="954.7" r="1.0" fill="#dcdce2"/>
<circle cx="55.2" cy="968.1" r="0.8" fill="#dcdce2"/>
<circle cx="289.6" cy="960.1" r="0.8" fill="#dcdce2"/>
<circle cx="326.2" cy="916.2" r="1.0" fill="#f0e4d8"/>
<circle cx="92.9" cy="1014.2" r="0.6" fill="#d0d0d4"/>
<circle cx="293.7" cy="942.8" r="0.8" fill="#e4e4ea"/>
<circle cx="377.6" cy="978.5" r="1.1" fill="#f0e4d8"/>
<circle cx="298.8" cy="1006.6" r="0.7" fill="#f0e4d8"/>
<circle cx="324.4" cy="946.3" r="0.7" fill="#ececf0"/>
<circle cx="140.1" cy="970.2" r="1.0" fill="#ececf0"/>
<circle cx="308.4" cy="961.3" r="1.0" fill="#e4e4ea"/>
<circle cx="258.4" cy="1012.8" r="0.9" fill="#f2e8de"/>
<circle cx="287.1" cy="921.2" r="0.8" fill="#d0d0d4"/>
<circle cx="253.2" cy="930.7" r="0.8" fill="#f0e4d8"/>
<circle cx="349.5" cy="974.3" r="0.8" fill="#ececf0"/>
<circle cx="165.3" cy="947.6" r="1.0" fill="#d0d0d4"/>
<circle cx="265.5" cy="959.1" r="0.8" fill="#ececf0"/>
<circle cx="234.6" cy="957.8" r="0.9" fill="#ececf0"/>
<circle cx="78.4" cy="969.1" r="0.9" fill="#dcdce2"/>
<circle cx="200.8" cy="951.3" r="0.8" fill="#dcdce2"/>
<circle cx="231.5" cy="941.9" r="0.8" fill="#ececf0"/>
<circle cx="83.5" cy="941.3" r="1.0" fill="#f0e4d8"/>
<circle cx="119.5" cy="918.1" r="0.8" fill="#dcdce2"/>
<circle cx="295.7" cy="938.3" r="0.8" fill="#f0e4d8"/>
<circle cx="74.1" cy="945.4" r="0.7" fill="#f0e4d8"/>
<circle cx="333.6" cy="938.9" r="1.0" fill="#f0e4d8"/>
<circle cx="178.6" cy="984.5" r="1.1" fill="#dcdce2"/>
<circle cx="329.0" cy="1008.5" r="0.7" fill="#e4e4ea"/>
<circle cx="191.8" cy="997.0" r="1.1" fill="#dcdce2"/>
<circle cx="355.4" cy="1014.4" r="1.0" fill="#f2e8de"/>
<circle cx="369.0" cy="942.3" r="0.7" fill="#e4e4ea"/>
<circle cx="103.3" cy="1019.0" r="1.1" fill="#e4e4ea"/>
<circle cx="287.8" cy="984.6" r="0.6" fill="#dcdce2"/>
<circle cx="305.7" cy="916.1" r="0.7" fill="#ececf0"/>
<circle cx="352.1" cy="984.4" r="1.1" fill="#f0e4d8"/>
<circle cx="257.0" cy="972.0" r="0.9" fill="#dcdce2"/>
<circle cx="90.3" cy="923.5" r="1.1" fill="#f2e8de"/>
<circle cx="116.1" cy="943.7" r="0.6" fill="#f2e8de"/>
<circle cx="228.1" cy="1021.6" r="1.1" fill="#f0e4d8"/>
<circle cx="262.8" cy="1009.7" r="0.9" fill="#dcdce2"/>
<circle cx="231.2" cy="919.1" r="1.0" fill="#dcdce2"/>
<circle cx="153.6" cy="918.3" r="1.0" fill="#dcdce2"/>
<circle cx="263.7" cy="924.6" r="0.9" fill="#ececf0"/>
<circle cx="353.8" cy="940.0" r="0.9" fill="#e4e4ea"/>
<circle cx="286.7" cy="954.4" r="0.7" fill="#dcdce2"/>
<circle cx="312.2" cy="994.3" r="0.6" fill="#f2e8de"/>
<circle cx="302.1" cy="936.6" r="0.7" fill="#dcdce2"/>
<circle cx="300.4" cy="947.3" r="0.8" fill="#f2e8de"/>
<circle cx="114.7" cy="939.7" r="1.1" fill="#dcdce2"/>
<circle cx="72.3" cy="979.0" r="0.6" fill="#dcdce2"/>
<circle cx="61.7" cy="979.2" r="0.6" fill="#dcdce2"/>
<circle cx="73.5" cy="957.7" r="1.0" fill="#d0d0d4"/>
<circle cx="291.4" cy="1021.7" r="0.8" fill="#ececf0"/>
<circle cx="114.1" cy="1015.2" r="0.8" fill="#d0d0d4"/>
<circle cx="155.0" cy="992.9" r="1.1" fill="#f0e4d8"/>
<circle cx="197.3" cy="927.5" r="0.7" fill="#e4e4ea"/>
<circle cx="167.9" cy="1017.3" r="0.9" fill="#e4e4ea"/>
<circle cx="299.9" cy="956.3" r="1.0" fill="#f0e4d8"/>
<circle cx="194.1" cy="921.2" r="0.7" fill="#dcdce2"/>
<circle cx="229.5" cy="963.3" r="0.8" fill="#f0e4d8"/>
<circle cx="344.6" cy="919.2" r="0.7" fill="#dcdce2"/>
<circle cx="256.6" cy="958.9" r="0.6" fill="#dcdce2"/>
<circle cx="74.3" cy="1013.5" r="0.7" fill="#f0e4d8"/>
<circle cx="74.4" cy="980.2" r="0.7" fill="#f0e4d8"/>
<circle cx="364.3" cy="981.4" r="1.0" fill="#f0e4d8"/>
<circle cx="277.4" cy="1014.0" r="0.6" fill="#f0e4d8"/>
<circle cx="298.8" cy="1013.1" r="1.1" fill="#d0d0d4"/>
<circle cx="75.2" cy="1003.6" r="0.8" fill="#e4e4ea"/>
<circle cx="364.0" cy="1017.1" r="1.0" fill="#dcdce2"/>
<circle cx="350.0" cy="1002.4" r="1.1" fill="#ececf0"/>
<circle cx="113.3" cy="1001.1" r="0.8" fill="#d0d0d4"/>
<circle cx="278.2" cy="932.0" r="0.8" fill="#ececf0"/>
<circle cx="157.5" cy="954.4" r="0.6" fill="#f2e8de"/>
<circle cx="117.9" cy="995.8" r="0.8" fill="#ececf0"/>
<circle cx="264.5" cy="967.1" r="0.8" fill="#f2e8de"/>
<circle cx="371.6" cy="1009.6" r="0.7" fill="#e4e4ea"/>
<circle cx="81.2" cy="926.2" r="1.1" fill="#dcdce2"/>
<circle cx="369.0" cy="934.4" r="0.8" fill="#ececf0"/>
<circle cx="255.0" cy="987.5" r="0.9" fill="#d0d0d4"/>
<circle cx="304.7" cy="996.5" r="0.7" fill="#f0e4d8"/>
<circle cx="237.7" cy="955.5" r="0.7" fill="#d0d0d4"/>
<circle cx="196.4" cy="935.7" r="0.7" fill="#ececf0"/>
<circle cx="340.5" cy="977.3" r="0.6" fill="#f0e4d8"/>
<circle cx="135.5" cy="942.1" r="0.7" fill="#f2e8de"/>
<circle cx="315.9" cy="985.3" r="0.7" fill="#e4e4ea"/>
<circle cx="326.3" cy="1012.9" r="1.0" fill="#e4e4ea"/>
<circle cx="129.5" cy="921.3" r="1.1" fill="#f2e8de"/>
<circle cx="243.0" cy="1014.6" r="0.9" fill="#f0e4d8"/>
<circle cx="111.6" cy="979.9" r="1.1" fill="#d0d0d4"/>
<circle cx="88.3" cy="979.2" r="0.8" fill="#f2e8de"/>
<circle cx="66.1" cy="952.0" r="0.7" fill="#e4e4ea"/>
<circle cx="136.6" cy="979.5" r="1.1" fill="#d0d0d4"/>
<circle cx="318.0" cy="1002.8" r="0.9" fill="#dcdce2"/>
<circle cx="114.0" cy="949.1" r="0.6" fill="#ececf0"/>
<circle cx="186.2" cy="1000.4" r="0.9" fill="#d0d0d4"/>
<circle cx="261.1" cy="925.7" r="0.8" fill="#ececf0"/>
<circle cx="141.9" cy="1020.8" r="0.8" fill="#d0d0d4"/>
<circle cx="362.8" cy="949.1" r="1.0" fill="#f2e8de"/>
<circle cx="188.2" cy="917.9" r="0.9" fill="#f0e4d8"/>
<circle cx="180.6" cy="958.9" r="0.8" fill="#e4e4ea"/>
<circle cx="104.7" cy="928.0" r="0.8" fill="#e4e4ea"/>
<polygon points="62.4,920.6 61.4,925.7 58.9,923.1" fill="#dcc2a2" stroke="#b09070" stroke-width="1.1"/>
<polygon points="105.6,921.9 109.8,922.3 106.0,925.6" fill="#dcc2a2" stroke="#b09070" stroke-width="1.1"/>
<polygon points="149.2,923.4 152.4,920.6 152.5,924.9" fill="#dcc2a2" stroke="#b09070" stroke-width="1.1"/>
<polygon points="180.0,918.4 174.5,917.8 175.6,913.5" fill="#dcc2a2" stroke="#b09070" stroke-width="1.1"/>
<polygon points="199.7,930.1 197.4,927.2 201.9,925.8" fill="#dcc2a2" stroke="#b09070" stroke-width="1.1"/>
<polygon points="163.6,933.7 165.3,930.5 167.2,933.7" fill="#dcc2a2" stroke="#b09070" stroke-width="1.1"/>
<polygon points="119.0,940.0 113.9,940.9 114.7,936.2" fill="#dcc2a2" stroke="#b09070" stroke-width="1.1"/>
<polygon points="277.9,920.8 282.2,919.9 279.7,924.6" fill="#dcc2a2" stroke="#b09070" stroke-width="1.1"/>
<polygon points="268.6,943.9 266.1,939.8 270.7,938.6" fill="#dcc2a2" stroke="#b09070" stroke-width="1.1"/>
<polygon points="283.4,939.0 284.8,935.7 287.8,939.7" fill="#dcc2a2" stroke="#b09070" stroke-width="1.1"/>
<polygon points="320.4,946.3 323.3,951.4 318.9,949.1" fill="#dcc2a2" stroke="#b09070" stroke-width="1.1"/>
<polygon points="365.3,949.2 360.2,952.5 362.1,947.2" fill="#dcc2a2" stroke="#b09070" stroke-width="1.1"/>
<polygon points="372.5,951.8 369.1,949.4 372.6,948.1" fill="#dcc2a2" stroke="#b09070" stroke-width="1.1"/>
<polygon points="55.5,964.9 53.5,960.8 57.5,961.0" fill="#dcc2a2" stroke="#b09070" stroke-width="1.1"/>
<polygon points="70.6,978.3 70.5,973.9 73.3,975.1" fill="#dcc2a2" stroke="#b09070" stroke-width="1.1"/>
<polygon points="64.6,982.2 65.9,986.6 61.7,985.1" fill="#dcc2a2" stroke="#b09070" stroke-width="1.1"/>
<polygon points="101.3,988.6 99.7,992.4 96.6,988.4" fill="#dcc2a2" stroke="#b09070" stroke-width="1.1"/>
<polygon points="121.0,992.9 124.7,993.1 124.1,996.5" fill="#dcc2a2" stroke="#b09070" stroke-width="1.1"/>
<polygon points="148.3,998.3 147.3,994.4 151.2,993.3" fill="#dcc2a2" stroke="#b09070" stroke-width="1.1"/>
<polygon points="161.3,969.8 156.8,968.7 160.0,965.1" fill="#dcc2a2" stroke="#b09070" stroke-width="1.1"/>
<polygon points="176.8,984.5 173.3,987.1 173.8,982.8" fill="#dcc2a2" stroke="#b09070" stroke-width="1.1"/>
<polygon points="195.9,998.3 192.7,996.0 196.2,993.4" fill="#dcc2a2" stroke="#b09070" stroke-width="1.1"/>
<polygon points="164.7,1015.9 168.8,1016.3 164.6,1020.8" fill="#dcc2a2" stroke="#b09070" stroke-width="1.1"/>
<polygon points="232.5,991.5 233.4,987.7 236.5,989.2" fill="#dcc2a2" stroke="#b09070" stroke-width="1.1"/>
<polygon points="260.4,973.5 265.2,970.5 263.7,975.6" fill="#dcc2a2" stroke="#b09070" stroke-width="1.1"/>
<polygon points="279.4,995.9 275.5,993.7 278.2,991.6" fill="#dcc2a2" stroke="#b09070" stroke-width="1.1"/>
<polygon points="304.6,1004.0 304.8,1001.1 308.3,1002.0" fill="#dcc2a2" stroke="#b09070" stroke-width="1.1"/>
<polygon points="327.2,999.3 329.9,995.1 332.6,999.8" fill="#dcc2a2" stroke="#b09070" stroke-width="1.1"/>
<polygon points="366.8,976.2 368.7,980.5 363.6,979.8" fill="#dcc2a2" stroke="#b09070" stroke-width="1.1"/>
<polygon points="293.1,1017.7 296.5,1017.6 297.3,1021.1" fill="#dcc2a2" stroke="#b09070" stroke-width="1.1"/>
<polygon points="228.1,946.9 226.2,942.0 231.1,941.8" fill="#dcc2a2" stroke="#b09070" stroke-width="1.1"/>
<line x1="52" y1="913.5" x2="208" y2="913.5" stroke="#383838" stroke-width="1.9"/>
<line x1="222.5" y1="913.5" x2="379.5" y2="913.5" stroke="#383838" stroke-width="1.9"/>
<line x1="52" y1="1024.6" x2="379.5" y2="1024.6" stroke="#404040" stroke-width="1.7"/>
<line x1="137.5" y1="913.5" x2="208" y2="913.5" stroke="#c02038" stroke-width="1.9"/>
<line x1="137.5" y1="1024.6" x2="180" y2="1024.6" stroke="#e03048" stroke-width="1.6"/>
<line x1="137.5" y1="913" x2="137.5" y2="1136" stroke="#e05868" stroke-width="1.3"/>
<line x1="137.5" y1="1135.7" x2="180" y2="1135.7" stroke="#c84058" stroke-width="1.5"/>
<polygon points="137.5,913.3 135.0,926.3 140.0,926.3" fill="#dc1e3c"/>
<polygon points="137.5,1024.6 135.0,1011.5999999999999 140.0,1011.5999999999999" fill="#dc1e3c"/>
<polygon points="137.5,1024.6 135.0,1037.6 140.0,1037.6" fill="#dc1e3c"/>
<polygon points="137.5,1135.7 135.0,1123.7 140.0,1123.7" fill="#dc1e3c"/>
<text transform="translate(137.80 982.37) rotate(-90) scale(0.9809 1)" font-size="16.5" fill="#cc3c56" stroke="#cc3c56" stroke-width="0.2">400</text>
<text transform="translate(137.80 1092.63) rotate(-90) scale(0.9533 1)" font-size="16.5" fill="#cc3c56" stroke="#cc3c56" stroke-width="0.2">500</text>
<line x1="180" y1="1136" x2="180" y2="1169" stroke="#a05868" stroke-width="1.5"/>
<line x1="251.3" y1="1136" x2="251.3" y2="1169" stroke="#a05868" stroke-width="1.5"/>
<line x1="180" y1="1168" x2="251" y2="1168" stroke="#d85060" stroke-width="1.3"/>
<polygon points="180,1168 193,1165.75 193,1170.25" fill="#dc1e3c"/>
<polygon points="251,1168 238,1165.75 238,1170.25" fill="#dc1e3c"/>
<text transform="translate(202.02 1168.60) scale(1.0035 1)" font-size="16.5" fill="#cc3c56" stroke="#cc3c56" stroke-width="0.2">400</text>
<line x1="208.5" y1="762.5" x2="208.5" y2="1008" stroke="#484848" stroke-width="1.8"/>
<line x1="222.6" y1="762.5" x2="222.6" y2="1008" stroke="#484848" stroke-width="1.8"/>
<rect x="206.3" y="1007.5" width="18.2" height="14" fill="#fff" stroke="#404040" stroke-width="1.4"/>
<circle cx="215.3" cy="1014.3" r="2" fill="#888" stroke="#303030" stroke-width="1.2"/>
<path d="M200,1025 Q200,1021 204,1021 H227 Q231,1021 231,1025 Z" fill="#1a1a1a"/>
<line x1="202.7" y1="1025" x2="202.7" y2="1041" stroke="#7a7a7a" stroke-width="3"/>
<line x1="228" y1="1025" x2="228" y2="1041" stroke="#7a7a7a" stroke-width="3"/>
<polyline points="215,837.5 310,758.2 434.5,758.2" stroke="#c84a68" stroke-width="1.45" fill="none"/>
<polyline points="306,957 436,926.7 492.5,926.7" stroke="#c84a68" stroke-width="1.45" fill="none"/>
<polyline points="235,1034.5 347.5,1113 489.5,1113" stroke="#c84a68" stroke-width="1.45" fill="none"/>
<polyline points="244.5,1111 321,1170 484.5,1170" stroke="#c84a68" stroke-width="1.45" fill="none"/>
<text transform="translate(315.53 750.00) scale(1.0668 1)" font-size="17.0" fill="#282828" stroke="#282828" stroke-width="0.5">poste metálico</text>
<text transform="translate(440.24 922.50) scale(1.0525 1)" font-size="17.0" fill="#282828" stroke="#282828" stroke-width="0.5">arena</text>
<text transform="translate(350.43 1087.50) scale(1.0524 1)" font-size="17.0" fill="#282828" stroke="#282828" stroke-width="0.5">tornillo de fijación</text>
<text transform="translate(350.08 1108.30) scale(1.0587 1)" font-size="17.0" fill="#282828" stroke="#282828" stroke-width="0.5">Ø8x80 (4 uds)</text>
<text transform="translate(322.97 1142.50) scale(1.0594 1)" font-size="17.0" fill="#282828" stroke="#282828" stroke-width="0.5">zapata de hormigón</text>
<text transform="translate(322.94 1163.70) scale(1.0542 1)" font-size="17.0" fill="#282828" stroke="#282828" stroke-width="0.5">con fibras, H-200</text>
</g>
<g id="d2">
<rect x="847.5" y="971" width="268.7" height="42" fill="url(#h2)"/>
<line x1="847.5" y1="1012.3" x2="1116.2" y2="1012.3" stroke="#7c7c7c" stroke-width="2"/>
<rect x="847.5" y="959.3" width="268.7" height="11.6" fill="#e2e2f4" stroke="#30304e" stroke-width="1.6"/>
<path d="M912.3,965.7 q0.8,0.3 1.2,0.4" stroke="#8080c8" stroke-width="1.2" fill="none"/>
<path d="M1088.1,965.1 q-0.2,1.0 -0.3,-0.0" stroke="#8080c8" stroke-width="1.2" fill="none"/>
<path d="M889.5,966.4 q-2.3,0.8 -2.6,-0.4" stroke="#8080c8" stroke-width="1.2" fill="none"/>
<path d="M891.8,969.0 q2.4,-0.1 3.4,-0.8" stroke="#9c9cd8" stroke-width="1.2" fill="none"/>
<path d="M1038.3,968.3 q-0.7,0.2 -2.4,0.5" stroke="#ffffff" stroke-width="1.2" fill="none"/>
<path d="M1102.6,962.4 q-0.2,1.4 0.7,-0.3" stroke="#ffffff" stroke-width="1.2" fill="none"/>
<path d="M964.3,966.3 q1.0,0.1 1.6,0.1" stroke="#ffffff" stroke-width="1.2" fill="none"/>
<path d="M956.8,963.2 q1.6,1.5 1.9,0.7" stroke="#7474c4" stroke-width="1.2" fill="none"/>
<path d="M1025.9,962.6 q-1.6,0.6 -3.5,-0.2" stroke="#ffffff" stroke-width="1.2" fill="none"/>
<path d="M905.3,968.0 q-0.3,0.4 -0.5,0.1" stroke="#7474c4" stroke-width="1.2" fill="none"/>
<path d="M867.5,968.5 q2.0,-1.4 2.6,-0.9" stroke="#ffffff" stroke-width="1.2" fill="none"/>
<path d="M1011.0,961.7 q-0.7,1.5 -1.5,-0.1" stroke="#6060b4" stroke-width="1.2" fill="none"/>
<path d="M931.1,961.9 q0.7,-0.6 -0.5,-0.2" stroke="#8a8ad0" stroke-width="1.2" fill="none"/>
<path d="M919.0,966.8 q-0.3,1.2 -2.3,-0.9" stroke="#6060b4" stroke-width="1.2" fill="none"/>
<path d="M949.0,965.0 q0.3,-1.2 -0.2,0.6" stroke="#ffffff" stroke-width="1.2" fill="none"/>
<path d="M1104.9,967.8 q0.5,-0.6 2.0,0.2" stroke="#8080c8" stroke-width="1.2" fill="none"/>
<path d="M1106.2,965.5 q0.9,-0.6 -0.2,-0.2" stroke="#ffffff" stroke-width="1.2" fill="none"/>
<path d="M948.6,966.0 q1.3,0.5 2.8,-0.4" stroke="#6060b4" stroke-width="1.2" fill="none"/>
<path d="M942.4,967.0 q0.4,-1.4 -1.1,-0.4" stroke="#7474c4" stroke-width="1.2" fill="none"/>
<path d="M946.7,966.3 q0.6,-0.6 1.8,0.2" stroke="#8a8ad0" stroke-width="1.2" fill="none"/>
<path d="M946.7,966.1 q1.3,1.4 1.4,-0.0" stroke="#9c9cd8" stroke-width="1.2" fill="none"/>
<path d="M1029.1,962.4 q-0.5,-0.9 -0.0,0.6" stroke="#6060b4" stroke-width="1.2" fill="none"/>
<path d="M964.0,966.9 q1.4,-0.8 2.2,-0.6" stroke="#6060b4" stroke-width="1.2" fill="none"/>
<path d="M1062.2,969.0 q2.4,-0.1 3.2,-0.6" stroke="#8a8ad0" stroke-width="1.2" fill="none"/>
<path d="M909.0,962.3 q0.6,0.2 -0.2,-0.0" stroke="#9c9cd8" stroke-width="1.2" fill="none"/>
<path d="M1076.3,964.0 q-1.0,-1.1 -1.5,-0.6" stroke="#ffffff" stroke-width="1.2" fill="none"/>
<path d="M926.5,967.7 q0.4,0.2 1.6,-0.1" stroke="#ffffff" stroke-width="1.2" fill="none"/>
<path d="M859.3,964.6 q1.9,1.5 2.2,-0.2" stroke="#9c9cd8" stroke-width="1.2" fill="none"/>
<path d="M963.8,968.9 q-1.1,0.8 -2.0,-0.8" stroke="#8080c8" stroke-width="1.2" fill="none"/>
<path d="M1046.0,969.0 q-1.1,0.3 -0.5,0.8" stroke="#9c9cd8" stroke-width="1.2" fill="none"/>
<path d="M925.2,967.8 q1.9,-0.9 3.7,-0.7" stroke="#8080c8" stroke-width="1.2" fill="none"/>
<path d="M1081.5,964.7 q0.7,-0.6 2.7,-0.8" stroke="#7474c4" stroke-width="1.2" fill="none"/>
<path d="M1023.7,965.5 q-0.3,-1.1 1.0,0.9" stroke="#ffffff" stroke-width="1.2" fill="none"/>
<path d="M1104.7,965.6 q-1.3,0.1 -1.4,-0.5" stroke="#8a8ad0" stroke-width="1.2" fill="none"/>
<path d="M1064.0,962.7 q-2.3,1.3 -3.0,0.2" stroke="#9c9cd8" stroke-width="1.2" fill="none"/>
<path d="M954.9,967.4 q0.9,-0.1 2.2,0.1" stroke="#ffffff" stroke-width="1.2" fill="none"/>
<path d="M1053.4,961.3 q-0.0,-0.1 1.8,-0.8" stroke="#7474c4" stroke-width="1.2" fill="none"/>
<path d="M858.6,967.0 q-0.4,-0.4 -0.1,0.4" stroke="#8a8ad0" stroke-width="1.2" fill="none"/>
<path d="M1019.5,966.0 q0.3,-1.1 0.8,-0.1" stroke="#6060b4" stroke-width="1.2" fill="none"/>
<path d="M850.9,967.1 q-1.4,0.3 -2.3,-0.1" stroke="#7474c4" stroke-width="1.2" fill="none"/>
<path d="M1055.0,964.3 q-2.1,0.4 -2.5,-0.1" stroke="#ffffff" stroke-width="1.2" fill="none"/>
<path d="M1049.1,963.8 q-1.8,0.1 -2.5,-0.8" stroke="#7474c4" stroke-width="1.2" fill="none"/>
<path d="M1032.1,961.9 q1.2,-0.4 0.6,0.2" stroke="#7474c4" stroke-width="1.2" fill="none"/>
<path d="M1085.2,967.6 q1.8,0.7 1.8,-0.0" stroke="#7474c4" stroke-width="1.2" fill="none"/>
<path d="M1072.6,965.5 q0.5,-1.2 0.7,-0.2" stroke="#6060b4" stroke-width="1.2" fill="none"/>
<path d="M1004.0,961.3 q1.6,0.2 3.1,-0.3" stroke="#7474c4" stroke-width="1.2" fill="none"/>
<path d="M1022.7,964.3 q-1.7,1.0 -2.0,-0.4" stroke="#9c9cd8" stroke-width="1.2" fill="none"/>
<path d="M1026.5,968.0 q-2.3,1.5 -2.9,-0.8" stroke="#9c9cd8" stroke-width="1.2" fill="none"/>
<path d="M997.7,965.5 q1.9,-1.3 2.1,-0.0" stroke="#7474c4" stroke-width="1.2" fill="none"/>
<path d="M935.0,965.8 q-0.6,-0.1 -1.8,-0.5" stroke="#8a8ad0" stroke-width="1.2" fill="none"/>
<path d="M1033.4,968.8 q1.2,1.4 2.1,0.1" stroke="#6060b4" stroke-width="1.2" fill="none"/>
<path d="M948.3,963.2 q-1.9,0.2 -3.5,-0.6" stroke="#8a8ad0" stroke-width="1.2" fill="none"/>
<path d="M1001.9,968.7 q0.3,-1.1 -1.0,-0.2" stroke="#ffffff" stroke-width="1.2" fill="none"/>
<path d="M875.1,967.3 q-1.2,1.1 -2.7,-0.6" stroke="#ffffff" stroke-width="1.2" fill="none"/>
<path d="M885.7,967.3 q2.0,0.1 2.5,-0.4" stroke="#8a8ad0" stroke-width="1.2" fill="none"/>
<path d="M1054.2,966.7 q-1.2,-0.7 -2.7,-0.3" stroke="#ffffff" stroke-width="1.2" fill="none"/>
<path d="M907.0,961.5 q0.2,-0.8 0.2,0.2" stroke="#8a8ad0" stroke-width="1.2" fill="none"/>
<path d="M959.6,966.9 q0.1,1.0 -1.2,-0.2" stroke="#ffffff" stroke-width="1.2" fill="none"/>
<path d="M996.0,965.2 q-0.6,1.1 -2.3,0.4" stroke="#ffffff" stroke-width="1.2" fill="none"/>
<path d="M862.0,968.6 q-1.1,1.4 -2.9,-0.5" stroke="#9c9cd8" stroke-width="1.2" fill="none"/>
<path d="M1073.7,963.2 q1.1,0.5 1.8,-0.4" stroke="#8a8ad0" stroke-width="1.2" fill="none"/>
<path d="M859.6,968.8 q0.5,0.7 1.4,-0.6" stroke="#8a8ad0" stroke-width="1.2" fill="none"/>
<path d="M872.5,962.0 q-1.1,0.7 -1.9,-0.4" stroke="#6060b4" stroke-width="1.2" fill="none"/>
<path d="M938.2,961.5 q0.0,0.3 1.2,0.1" stroke="#7474c4" stroke-width="1.2" fill="none"/>
<path d="M1100.3,964.4 q-1.0,-0.2 -0.2,-0.1" stroke="#6060b4" stroke-width="1.2" fill="none"/>
<path d="M964.9,965.5 q0.7,0.8 2.0,-0.0" stroke="#8080c8" stroke-width="1.2" fill="none"/>
<path d="M1048.4,963.7 q-0.2,-1.2 -1.6,0.3" stroke="#9c9cd8" stroke-width="1.2" fill="none"/>
<path d="M1097.4,964.0 q-0.3,-0.4 -0.6,0.4" stroke="#8080c8" stroke-width="1.2" fill="none"/>
<path d="M1038.1,966.7 q0.3,-1.1 -0.4,-0.0" stroke="#8080c8" stroke-width="1.2" fill="none"/>
<path d="M947.1,968.7 q-0.6,-0.5 0.3,-0.1" stroke="#ffffff" stroke-width="1.2" fill="none"/>
<path d="M1038.8,966.1 q-0.3,0.8 -0.5,0.5" stroke="#ffffff" stroke-width="1.2" fill="none"/>
<path d="M1034.8,962.2 q1.7,-0.4 2.4,-0.2" stroke="#ffffff" stroke-width="1.2" fill="none"/>
<path d="M919.7,964.4 q-1.2,0.6 -1.5,-0.7" stroke="#ffffff" stroke-width="1.2" fill="none"/>
<path d="M1097.6,964.9 q0.0,-1.2 -1.4,-0.5" stroke="#ffffff" stroke-width="1.2" fill="none"/>
<path d="M920.9,962.1 q0.8,0.6 3.2,-0.4" stroke="#8080c8" stroke-width="1.2" fill="none"/>
<path d="M998.6,966.7 q0.8,-1.1 1.3,0.9" stroke="#8a8ad0" stroke-width="1.2" fill="none"/>
<path d="M954.4,962.8 q0.6,-0.4 -0.3,0.5" stroke="#8a8ad0" stroke-width="1.2" fill="none"/>
<path d="M926.8,968.0 q-0.0,0.2 0.4,0.2" stroke="#9c9cd8" stroke-width="1.2" fill="none"/>
<path d="M1002.8,966.4 q-0.8,0.5 -3.2,-0.9" stroke="#6060b4" stroke-width="1.2" fill="none"/>
<path d="M857.9,962.8 q-0.0,-0.0 -0.7,-0.2" stroke="#9c9cd8" stroke-width="1.2" fill="none"/>
<path d="M900.7,965.5 q2.3,-1.2 2.7,-0.8" stroke="#8080c8" stroke-width="1.2" fill="none"/>
<path d="M924.2,966.6 q1.4,-1.3 2.4,-0.4" stroke="#7474c4" stroke-width="1.2" fill="none"/>
<path d="M944.3,963.2 q1.0,1.1 2.8,-0.7" stroke="#6060b4" stroke-width="1.2" fill="none"/>
<path d="M1032.0,962.4 q-0.9,0.7 -2.7,-0.4" stroke="#7474c4" stroke-width="1.2" fill="none"/>
<path d="M940.0,967.8 q-1.4,-0.8 -3.6,-0.6" stroke="#ffffff" stroke-width="1.2" fill="none"/>
<path d="M932.7,967.6 q-0.2,-0.0 1.0,0.7" stroke="#8080c8" stroke-width="1.2" fill="none"/>
<path d="M1033.2,965.6 q-0.6,-0.1 0.8,0.5" stroke="#6060b4" stroke-width="1.2" fill="none"/>
<path d="M1031.1,964.8 q-0.2,-0.4 0.2,-0.2" stroke="#6060b4" stroke-width="1.2" fill="none"/>
<path d="M908.6,961.3 q2.1,0.1 2.7,0.1" stroke="#8a8ad0" stroke-width="1.2" fill="none"/>
<path d="M891.7,961.5 q-1.3,-1.2 -0.7,0.3" stroke="#8080c8" stroke-width="1.2" fill="none"/>
<path d="M894.1,965.2 q0.4,-1.4 1.5,-0.9" stroke="#ffffff" stroke-width="1.2" fill="none"/>
<path d="M1037.1,963.2 q0.8,-0.3 2.7,-0.8" stroke="#8a8ad0" stroke-width="1.2" fill="none"/>
<path d="M899.9,964.0 q0.9,0.7 3.5,-0.3" stroke="#ffffff" stroke-width="1.2" fill="none"/>
<path d="M922.1,967.6 q0.2,0.2 0.4,0.9" stroke="#6060b4" stroke-width="1.2" fill="none"/>
<path d="M857.9,964.0 q-0.8,1.4 -2.3,-1.0" stroke="#7474c4" stroke-width="1.2" fill="none"/>
<path d="M1005.2,961.3 q0.9,-0.1 1.7,-0.9" stroke="#8a8ad0" stroke-width="1.2" fill="none"/>
<path d="M899.5,965.4 q0.9,0.9 1.9,0.6" stroke="#9c9cd8" stroke-width="1.2" fill="none"/>
<path d="M1090.4,968.8 q1.4,-0.3 2.2,-0.9" stroke="#ffffff" stroke-width="1.2" fill="none"/>
<path d="M1098.2,962.8 q0.0,0.5 0.7,0.3" stroke="#ffffff" stroke-width="1.2" fill="none"/>
<path d="M1093.3,962.7 q-0.3,-0.4 -2.3,0.2" stroke="#9c9cd8" stroke-width="1.2" fill="none"/>
<path d="M898.2,967.7 q0.2,-0.7 0.5,0.3" stroke="#8080c8" stroke-width="1.2" fill="none"/>
<path d="M894.5,967.1 q0.4,-1.4 -1.1,0.5" stroke="#ffffff" stroke-width="1.2" fill="none"/>
<path d="M895.0,967.3 q-0.4,-1.2 -1.5,-0.5" stroke="#8080c8" stroke-width="1.2" fill="none"/>
<path d="M912.1,968.0 q-1.7,-0.1 -1.6,0.7" stroke="#9c9cd8" stroke-width="1.2" fill="none"/>
<path d="M1077.6,966.5 q-1.0,1.4 -1.5,-1.0" stroke="#8a8ad0" stroke-width="1.2" fill="none"/>
<path d="M877.5,965.9 q0.2,0.6 1.6,-0.7" stroke="#8080c8" stroke-width="1.2" fill="none"/>
<path d="M1106.1,968.8 q1.2,1.4 3.6,-0.1" stroke="#7474c4" stroke-width="1.2" fill="none"/>
<path d="M907.7,965.8 q0.1,1.1 0.9,0.7" stroke="#ffffff" stroke-width="1.2" fill="none"/>
<path d="M1054.9,965.0 q-1.1,-1.4 -0.6,-0.3" stroke="#9c9cd8" stroke-width="1.2" fill="none"/>
<path d="M1103.2,962.9 q-1.0,1.0 -1.6,-0.7" stroke="#ffffff" stroke-width="1.2" fill="none"/>
<path d="M1028.3,962.2 q-0.2,0.3 0.1,0.6" stroke="#8080c8" stroke-width="1.2" fill="none"/>
<path d="M966.7,962.2 q-1.5,-1.1 -2.6,-0.3" stroke="#9c9cd8" stroke-width="1.2" fill="none"/>
<path d="M852.0,963.7 q-0.5,-1.3 -1.0,0.1" stroke="#8a8ad0" stroke-width="1.2" fill="none"/>
<path d="M994.8,967.2 q0.4,-0.8 0.7,0.5" stroke="#ffffff" stroke-width="1.2" fill="none"/>
<path d="M1069.5,961.8 q0.4,-1.0 1.9,-0.1" stroke="#6060b4" stroke-width="1.2" fill="none"/>
<path d="M1093.9,967.1 q-1.9,0.6 -3.7,-0.2" stroke="#ffffff" stroke-width="1.2" fill="none"/>
<path d="M1073.4,964.2 q1.2,0.8 2.5,-0.1" stroke="#ffffff" stroke-width="1.2" fill="none"/>
<path d="M956.6,969.3 q-1.7,-1.2 -2.2,-0.7" stroke="#7474c4" stroke-width="1.2" fill="none"/>
<path d="M1039.3,963.7 q-0.7,-0.9 -0.2,0.5" stroke="#7474c4" stroke-width="1.2" fill="none"/>
<path d="M1054.9,962.4 q-0.5,-1.0 0.7,0.9" stroke="#ffffff" stroke-width="1.2" fill="none"/>
<path d="M1049.8,966.9 q-2.2,-1.0 -3.9,-0.9" stroke="#8080c8" stroke-width="1.2" fill="none"/>
<path d="M931.7,965.0 q0.8,-0.6 -0.2,0.4" stroke="#6060b4" stroke-width="1.2" fill="none"/>
<path d="M857.7,964.3 q0.3,0.9 1.5,0.6" stroke="#8080c8" stroke-width="1.2" fill="none"/>
<path d="M852.6,962.4 q0.8,-1.5 -0.3,0.4" stroke="#8a8ad0" stroke-width="1.2" fill="none"/>
<path d="M1107.7,967.6 q1.8,-1.4 1.7,0.8" stroke="#6060b4" stroke-width="1.2" fill="none"/>
<path d="M898.5,961.4 q0.5,0.9 0.5,0.1" stroke="#7474c4" stroke-width="1.2" fill="none"/>
<path d="M967.9,963.4 q-1.2,-1.4 -1.4,0.2" stroke="#8080c8" stroke-width="1.2" fill="none"/>
<path d="M962.5,966.3 q-0.9,1.4 -2.0,0.6" stroke="#9c9cd8" stroke-width="1.2" fill="none"/>
<path d="M1044.8,968.0 q0.6,-0.7 0.9,0.6" stroke="#6060b4" stroke-width="1.2" fill="none"/>
<path d="M894.2,961.4 q-0.9,0.5 -1.6,0.7" stroke="#ffffff" stroke-width="1.2" fill="none"/>
<path d="M1093.3,967.8 q-0.1,-0.6 -0.8,0.2" stroke="#ffffff" stroke-width="1.2" fill="none"/>
<path d="M869.3,962.4 q-1.1,-0.1 -1.5,-0.6" stroke="#9c9cd8" stroke-width="1.2" fill="none"/>
<path d="M1060.4,964.9 q-1.7,-1.4 -1.9,-0.9" stroke="#6060b4" stroke-width="1.2" fill="none"/>
<path d="M970.2,966.0 q0.8,-0.0 1.5,-0.1" stroke="#ffffff" stroke-width="1.2" fill="none"/>
<path d="M923.3,967.0 q-1.7,-1.4 -1.7,-0.8" stroke="#8080c8" stroke-width="1.2" fill="none"/>
<path d="M1066.6,964.9 q0.4,1.0 1.3,-0.0" stroke="#8080c8" stroke-width="1.2" fill="none"/>
<path d="M932.8,963.5 q-1.7,0.2 -3.8,-0.7" stroke="#6060b4" stroke-width="1.2" fill="none"/>
<path d="M859.3,964.6 q-0.0,-0.9 1.0,0.8" stroke="#ffffff" stroke-width="1.2" fill="none"/>
<path d="M870.8,965.5 q-0.6,1.1 -2.5,0.3" stroke="#8080c8" stroke-width="1.2" fill="none"/>
<path d="M1096.8,969.1 q-0.8,-0.6 -1.5,0.1" stroke="#ffffff" stroke-width="1.2" fill="none"/>
<path d="M996.6,962.7 q0.9,-1.0 0.1,-0.0" stroke="#8a8ad0" stroke-width="1.2" fill="none"/>
<path d="M1110.1,966.7 q-1.1,0.4 -0.8,-0.2" stroke="#7474c4" stroke-width="1.2" fill="none"/>
<path d="M931.5,966.5 q1.8,0.1 1.7,-0.6" stroke="#ffffff" stroke-width="1.2" fill="none"/>
<path d="M950.2,962.2 q-0.1,-1.2 1.3,0.9" stroke="#6060b4" stroke-width="1.2" fill="none"/>
<path d="M927.3,964.4 q-2.5,-0.4 -3.0,-0.7" stroke="#8a8ad0" stroke-width="1.2" fill="none"/>
<path d="M887.3,965.1 q0.6,1.0 2.8,-0.7" stroke="#ffffff" stroke-width="1.2" fill="none"/>
<path d="M965.9,964.6 q-0.1,1.0 -0.3,0.1" stroke="#8a8ad0" stroke-width="1.2" fill="none"/>
<path d="M902.5,966.1 q-2.2,1.1 -3.5,-0.6" stroke="#8a8ad0" stroke-width="1.2" fill="none"/>
<path d="M1101.3,963.8 q0.2,-0.3 -1.6,-0.6" stroke="#ffffff" stroke-width="1.2" fill="none"/>
<path d="M1078.6,962.2 q1.6,0.2 3.7,-0.9" stroke="#9c9cd8" stroke-width="1.2" fill="none"/>
<path d="M948.0,966.9 q0.7,-1.1 1.7,0.0" stroke="#ffffff" stroke-width="1.2" fill="none"/>
<path d="M1007.3,963.9 q0.2,0.6 -0.0,0.2" stroke="#6060b4" stroke-width="1.2" fill="none"/>
<path d="M1052.0,967.1 q0.3,1.4 1.5,0.4" stroke="#6060b4" stroke-width="1.2" fill="none"/>
<path d="M920.7,962.3 q0.5,-0.8 -0.0,0.7" stroke="#6060b4" stroke-width="1.2" fill="none"/>
<path d="M963.9,963.4 q1.8,1.5 2.1,-0.5" stroke="#9c9cd8" stroke-width="1.2" fill="none"/>
<path d="M1011.9,961.9 q0.0,-0.8 0.8,0.8" stroke="#9c9cd8" stroke-width="1.2" fill="none"/>
<path d="M950.0,963.0 q1.5,1.2 2.7,-0.7" stroke="#7474c4" stroke-width="1.2" fill="none"/>
<path d="M962.9,968.2 q-1.0,-0.4 -1.5,-0.1" stroke="#6060b4" stroke-width="1.2" fill="none"/>
<path d="M965.1,968.6 q-1.2,-0.8 -1.0,-0.3" stroke="#ffffff" stroke-width="1.2" fill="none"/>
<path d="M947.2,966.2 q0.6,-0.9 1.5,-0.6" stroke="#6060b4" stroke-width="1.2" fill="none"/>
<path d="M857.4,967.2 q1.4,1.0 1.4,0.1" stroke="#6060b4" stroke-width="1.2" fill="none"/>
<path d="M1089.2,964.8 q-1.0,-1.1 -1.0,-0.2" stroke="#ffffff" stroke-width="1.2" fill="none"/>
<path d="M930.3,965.7 q0.8,0.9 1.8,-0.7" stroke="#7474c4" stroke-width="1.2" fill="none"/>
<path d="M950.3,965.2 q-1.6,0.0 -2.7,-0.9" stroke="#8a8ad0" stroke-width="1.2" fill="none"/>
<path d="M963.3,966.3 q-0.3,0.7 -1.2,0.1" stroke="#7474c4" stroke-width="1.2" fill="none"/>
<path d="M1080.0,961.8 q-2.4,-1.5 -3.1,-0.4" stroke="#6060b4" stroke-width="1.2" fill="none"/>
<path d="M1084.3,967.9 q0.1,-0.5 1.3,0.1" stroke="#ffffff" stroke-width="1.2" fill="none"/>
<path d="M1019.9,969.0 q1.4,0.2 2.8,-0.8" stroke="#ffffff" stroke-width="1.2" fill="none"/>
<path d="M872.3,963.2 q-0.0,-0.5 0.4,0.8" stroke="#ffffff" stroke-width="1.2" fill="none"/>
<path d="M969.5,969.0 q1.9,-1.1 2.2,-0.0" stroke="#6060b4" stroke-width="1.2" fill="none"/>
<path d="M943.0,967.4 q-1.7,-0.2 -3.5,-0.5" stroke="#8080c8" stroke-width="1.2" fill="none"/>
<path d="M1039.0,968.2 q-1.1,1.0 -1.1,0.3" stroke="#9c9cd8" stroke-width="1.2" fill="none"/>
<path d="M1095.7,962.3 q-1.6,0.8 -2.4,-0.7" stroke="#8a8ad0" stroke-width="1.2" fill="none"/>
<path d="M935.7,963.3 q-2.4,-0.3 -3.0,-0.4" stroke="#8080c8" stroke-width="1.2" fill="none"/>
<path d="M952.0,962.7 q1.7,0.7 1.5,-0.2" stroke="#8080c8" stroke-width="1.2" fill="none"/>
<path d="M904.4,963.7 q1.2,-0.9 1.6,-0.5" stroke="#ffffff" stroke-width="1.2" fill="none"/>
<path d="M1025.8,966.2 q1.6,-0.2 2.9,-0.1" stroke="#ffffff" stroke-width="1.2" fill="none"/>
<path d="M896.4,963.7 q1.0,-0.0 0.7,-0.2" stroke="#ffffff" stroke-width="1.2" fill="none"/>
<path d="M1001.7,963.4 q-1.7,0.0 -3.1,-0.5" stroke="#8a8ad0" stroke-width="1.2" fill="none"/>
<path d="M1012.2,967.4 q1.7,0.3 2.4,-0.6" stroke="#9c9cd8" stroke-width="1.2" fill="none"/>
<path d="M878.2,965.5 q-1.9,1.3 -2.4,-0.4" stroke="#ffffff" stroke-width="1.2" fill="none"/>
<path d="M948.2,961.6 q-0.1,0.8 1.4,0.4" stroke="#ffffff" stroke-width="1.2" fill="none"/>
<path d="M994.8,963.7 q-2.1,-0.3 -3.5,-0.4" stroke="#ffffff" stroke-width="1.2" fill="none"/>
<path d="M1092.0,966.5 q-0.8,-0.4 -2.5,-0.7" stroke="#ffffff" stroke-width="1.2" fill="none"/>
<path d="M915.5,966.9 q-0.6,-1.0 -0.5,0.2" stroke="#7474c4" stroke-width="1.2" fill="none"/>
<path d="M1089.8,965.2 q-0.1,-0.4 -0.3,0.3" stroke="#ffffff" stroke-width="1.2" fill="none"/>
<path d="M1039.7,966.2 q-1.2,-1.2 -1.1,-0.2" stroke="#8080c8" stroke-width="1.2" fill="none"/>
<path d="M1077.6,965.4 q0.6,-0.8 0.5,-0.2" stroke="#6060b4" stroke-width="1.2" fill="none"/>
<path d="M918.3,963.0 q0.7,1.4 2.3,-0.6" stroke="#8a8ad0" stroke-width="1.2" fill="none"/>
<path d="M898.8,965.9 q-0.5,-0.7 -0.1,-0.0" stroke="#8a8ad0" stroke-width="1.2" fill="none"/>
<path d="M941.1,964.0 q2.2,-0.8 3.5,-0.4" stroke="#8a8ad0" stroke-width="1.2" fill="none"/>
<path d="M969.7,969.1 q-0.0,-0.0 1.8,0.5" stroke="#8a8ad0" stroke-width="1.2" fill="none"/>
<path d="M1110.8,962.4 q-1.2,0.6 -2.5,-0.6" stroke="#ffffff" stroke-width="1.2" fill="none"/>
<path d="M962.0,967.7 q1.8,-1.0 2.0,0.0" stroke="#ffffff" stroke-width="1.2" fill="none"/>
<path d="M858.2,964.8 q1.7,1.4 3.5,-1.0" stroke="#8a8ad0" stroke-width="1.2" fill="none"/>
<path d="M1072.1,967.1 q0.4,1.4 0.6,-0.3" stroke="#ffffff" stroke-width="1.2" fill="none"/>
<path d="M943.8,962.2 q1.5,0.7 3.0,0.2" stroke="#7474c4" stroke-width="1.2" fill="none"/>
<path d="M889.2,965.7 q-1.2,-1.2 -1.5,0.3" stroke="#8a8ad0" stroke-width="1.2" fill="none"/>
<path d="M870.9,966.7 q2.1,-0.3 3.1,-0.5" stroke="#8080c8" stroke-width="1.2" fill="none"/>
<path d="M969.4,969.3 q0.3,-1.3 -0.7,0.0" stroke="#8080c8" stroke-width="1.2" fill="none"/>
<path d="M1028.8,964.6 q0.8,1.4 2.3,-1.0" stroke="#8080c8" stroke-width="1.2" fill="none"/>
<path d="M876.6,967.7 q1.5,0.7 1.2,0.7" stroke="#ffffff" stroke-width="1.2" fill="none"/>
<path d="M1014.3,964.8 q0.0,-0.3 1.1,-0.5" stroke="#8a8ad0" stroke-width="1.2" fill="none"/>
<path d="M875.1,963.8 q-0.8,-1.2 -0.6,0.4" stroke="#ffffff" stroke-width="1.2" fill="none"/>
<path d="M956.4,966.0 q0.5,0.8 2.0,-0.1" stroke="#ffffff" stroke-width="1.2" fill="none"/>
<path d="M1007.6,966.6 q-0.7,0.9 -1.9,0.0" stroke="#ffffff" stroke-width="1.2" fill="none"/>
<path d="M896.6,964.9 q0.8,-1.1 -0.2,0.1" stroke="#ffffff" stroke-width="1.2" fill="none"/>
<path d="M869.2,961.8 q-1.5,-1.5 -2.7,-0.0" stroke="#9c9cd8" stroke-width="1.2" fill="none"/>
<path d="M1035.6,968.3 q-1.2,1.0 -1.5,-0.8" stroke="#8080c8" stroke-width="1.2" fill="none"/>
<path d="M1060.1,963.8 q-1.2,1.4 -0.5,0.2" stroke="#8080c8" stroke-width="1.2" fill="none"/>
<path d="M900.2,962.0 q-0.5,-1.1 -2.0,0.0" stroke="#9c9cd8" stroke-width="1.2" fill="none"/>
<path d="M893.1,969.0 q0.1,-1.3 2.1,0.5" stroke="#ffffff" stroke-width="1.2" fill="none"/>
<path d="M1027.2,968.7 q1.0,-0.2 0.8,0.6" stroke="#ffffff" stroke-width="1.2" fill="none"/>
<path d="M940.0,968.8 q0.2,-0.1 1.4,0.1" stroke="#8080c8" stroke-width="1.2" fill="none"/>
<path d="M917.3,964.2 q-0.8,-0.9 -1.5,0.5" stroke="#ffffff" stroke-width="1.2" fill="none"/>
<path d="M938.3,961.8 q0.9,-0.3 2.2,0.0" stroke="#ffffff" stroke-width="1.2" fill="none"/>
<path d="M933.6,966.5 q-0.5,0.2 -2.5,-0.6" stroke="#ffffff" stroke-width="1.2" fill="none"/>
<path d="M939.1,964.7 q1.4,1.2 3.3,-0.8" stroke="#9c9cd8" stroke-width="1.2" fill="none"/>
<path d="M952.6,965.5 q1.9,0.4 3.4,-0.2" stroke="#9c9cd8" stroke-width="1.2" fill="none"/>
<path d="M1040.7,962.1 q-1.0,0.2 -2.0,-0.1" stroke="#ffffff" stroke-width="1.2" fill="none"/>
<path d="M1010.5,965.1 q2.3,-0.9 2.9,-0.7" stroke="#8a8ad0" stroke-width="1.2" fill="none"/>
<path d="M1083.4,967.7 q-1.4,0.0 -2.4,0.5" stroke="#8a8ad0" stroke-width="1.2" fill="none"/>
<path d="M880.4,962.1 q2.2,1.2 3.0,0.2" stroke="#ffffff" stroke-width="1.2" fill="none"/>
<path d="M964.0,962.5 q1.4,0.4 2.8,0.1" stroke="#ffffff" stroke-width="1.2" fill="none"/>
<path d="M994.1,966.0 q1.6,-0.7 1.4,0.3" stroke="#8a8ad0" stroke-width="1.2" fill="none"/>
<path d="M872.5,968.4 q0.2,1.2 1.5,-0.3" stroke="#6060b4" stroke-width="1.2" fill="none"/>
<path d="M937.3,963.7 q1.6,-1.5 2.2,-0.1" stroke="#ffffff" stroke-width="1.2" fill="none"/>
<path d="M1018.9,967.8 q1.3,-1.3 1.4,-0.4" stroke="#6060b4" stroke-width="1.2" fill="none"/>
<path d="M915.6,962.9 q2.6,0.2 3.5,-0.1" stroke="#8a8ad0" stroke-width="1.2" fill="none"/>
<path d="M880.5,964.7 q2.0,1.0 3.7,-0.7" stroke="#6060b4" stroke-width="1.2" fill="none"/>
<path d="M903.5,964.1 q1.0,-0.5 2.5,-0.6" stroke="#9c9cd8" stroke-width="1.2" fill="none"/>
<path d="M1021.4,966.0 q-0.1,-1.0 1.3,-0.4" stroke="#ffffff" stroke-width="1.2" fill="none"/>
<path d="M933.9,966.1 q0.3,0.1 1.2,-0.5" stroke="#9c9cd8" stroke-width="1.2" fill="none"/>
<path d="M956.6,964.0 q1.2,1.5 1.7,0.1" stroke="#9c9cd8" stroke-width="1.2" fill="none"/>
<path d="M894.1,961.3 q-1.0,-0.4 -1.9,-0.2" stroke="#9c9cd8" stroke-width="1.2" fill="none"/>
<path d="M948.3,964.2 q-0.0,0.2 0.6,-0.3" stroke="#ffffff" stroke-width="1.2" fill="none"/>
<path d="M869.4,963.7 q1.8,-1.0 2.1,-0.1" stroke="#8080c8" stroke-width="1.2" fill="none"/>
<path d="M1058.3,963.4 q0.8,-0.5 2.8,-0.7" stroke="#9c9cd8" stroke-width="1.2" fill="none"/>
<path d="M853.9,966.2 q-0.4,-0.1 -1.9,-1.0" stroke="#8080c8" stroke-width="1.2" fill="none"/>
<path d="M1044.9,967.7 q-1.5,-1.3 -3.2,-1.0" stroke="#8080c8" stroke-width="1.2" fill="none"/>
<path d="M1083.5,962.0 q0.9,-0.5 3.4,-0.5" stroke="#6060b4" stroke-width="1.2" fill="none"/>
<path d="M1059.5,961.7 q-0.4,0.6 0.3,-0.1" stroke="#8080c8" stroke-width="1.2" fill="none"/>
<path d="M1044.9,966.3 q-0.5,0.6 -2.4,0.1" stroke="#7474c4" stroke-width="1.2" fill="none"/>
<path d="M1019.2,961.4 q-0.2,-0.2 -1.9,-0.1" stroke="#8080c8" stroke-width="1.2" fill="none"/>
<path d="M885.8,967.1 q-2.3,0.8 -3.0,0.1" stroke="#6060b4" stroke-width="1.2" fill="none"/>
<path d="M992.7,964.0 q-0.8,-0.6 -1.7,-0.4" stroke="#8080c8" stroke-width="1.2" fill="none"/>
<path d="M940.3,967.3 q1.9,0.7 2.1,-0.4" stroke="#8a8ad0" stroke-width="1.2" fill="none"/>
<path d="M1005.7,964.5 q-0.4,0.4 -2.6,-0.8" stroke="#8a8ad0" stroke-width="1.2" fill="none"/>
<path d="M852.0,967.2 q0.1,0.5 0.3,-0.2" stroke="#8080c8" stroke-width="1.2" fill="none"/>
<path d="M1007.7,966.2 q0.6,0.7 0.0,0.4" stroke="#ffffff" stroke-width="1.2" fill="none"/>
<path d="M1072.0,969.3 q1.5,-0.2 3.1,-0.6" stroke="#9c9cd8" stroke-width="1.2" fill="none"/>
<path d="M1036.4,962.9 q1.4,-0.7 1.2,-0.3" stroke="#ffffff" stroke-width="1.2" fill="none"/>
<path d="M1109.7,968.8 q-0.3,-0.6 -0.8,-0.0" stroke="#8080c8" stroke-width="1.2" fill="none"/>
<path d="M1022.8,967.8 q-0.8,0.3 -0.8,-0.4" stroke="#ffffff" stroke-width="1.2" fill="none"/>
<path d="M1089.0,966.4 q-0.6,-0.0 -1.5,-0.4" stroke="#ffffff" stroke-width="1.2" fill="none"/>
<path d="M1075.1,965.5 q-0.5,1.1 0.8,-0.3" stroke="#ffffff" stroke-width="1.2" fill="none"/>
<path d="M869.4,967.9 q0.3,1.1 2.3,-0.3" stroke="#6060b4" stroke-width="1.2" fill="none"/>
<path d="M1002.2,963.2 q-1.9,0.1 -1.9,0.2" stroke="#7474c4" stroke-width="1.2" fill="none"/>
<path d="M1027.9,963.9 q0.4,1.0 -0.6,0.4" stroke="#6060b4" stroke-width="1.2" fill="none"/>
<path d="M1001.8,962.5 q0.3,-0.3 0.7,0.6" stroke="#7474c4" stroke-width="1.2" fill="none"/>
<path d="M855.8,966.5 q-0.8,-0.4 -1.3,-0.4" stroke="#6060b4" stroke-width="1.2" fill="none"/>
<path d="M852.1,969.0 q-1.2,1.1 -2.0,-0.3" stroke="#7474c4" stroke-width="1.2" fill="none"/>
<path d="M1049.0,966.8 q0.2,-0.9 -1.4,-0.6" stroke="#6060b4" stroke-width="1.2" fill="none"/>
<path d="M1087.8,964.1 q0.6,-0.4 0.4,-0.3" stroke="#8a8ad0" stroke-width="1.2" fill="none"/>
<path d="M1063.5,964.3 q0.4,0.7 1.3,0.4" stroke="#8a8ad0" stroke-width="1.2" fill="none"/>
<path d="M914.1,962.6 q0.6,1.4 1.2,-0.3" stroke="#9c9cd8" stroke-width="1.2" fill="none"/>
<path d="M1081.8,966.0 q-1.2,-0.3 -3.4,-0.3" stroke="#8a8ad0" stroke-width="1.2" fill="none"/>
<path d="M917.0,964.4 q0.1,-0.9 -0.4,-0.2" stroke="#ffffff" stroke-width="1.2" fill="none"/>
<path d="M1048.4,965.9 q-0.3,0.6 -2.0,-0.4" stroke="#6060b4" stroke-width="1.2" fill="none"/>
<path d="M1019.5,966.5 q-0.7,-0.6 -1.4,-0.4" stroke="#6060b4" stroke-width="1.2" fill="none"/>
<path d="M1106.7,968.4 q-1.4,0.6 -1.6,-0.2" stroke="#8a8ad0" stroke-width="1.2" fill="none"/>
<path d="M954.3,967.9 q-0.7,0.3 -0.9,-0.1" stroke="#8a8ad0" stroke-width="1.2" fill="none"/>
<path d="M967.6,966.5 q-1.4,1.4 -2.8,0.4" stroke="#7474c4" stroke-width="1.2" fill="none"/>
<path d="M855.1,968.3 q1.1,0.1 1.0,0.7" stroke="#9c9cd8" stroke-width="1.2" fill="none"/>
<path d="M1095.8,963.8 q0.2,1.3 1.5,0.5" stroke="#8a8ad0" stroke-width="1.2" fill="none"/>
<path d="M1060.8,965.1 q-1.4,0.5 -1.8,-0.1" stroke="#ffffff" stroke-width="1.2" fill="none"/>
<path d="M1003.8,967.6 q-0.9,0.2 0.1,-0.0" stroke="#6060b4" stroke-width="1.2" fill="none"/>
<path d="M960.5,968.4 q-0.8,0.4 -0.9,0.1" stroke="#9c9cd8" stroke-width="1.2" fill="none"/>
<path d="M1003.5,968.1 q-0.4,0.8 0.2,-0.0" stroke="#8080c8" stroke-width="1.2" fill="none"/>
<path d="M880.2,965.7 q-1.8,0.4 -2.7,-0.4" stroke="#6060b4" stroke-width="1.2" fill="none"/>
<path d="M914.9,966.7 q-0.8,1.4 -3.5,-0.5" stroke="#7474c4" stroke-width="1.2" fill="none"/>
<path d="M850.4,962.9 q1.0,0.1 2.6,0.1" stroke="#8a8ad0" stroke-width="1.2" fill="none"/>
<path d="M872.6,964.5 q0.6,-0.9 -0.0,-0.2" stroke="#7474c4" stroke-width="1.2" fill="none"/>
<path d="M1055.8,964.6 q-0.2,0.7 1.2,-0.5" stroke="#8080c8" stroke-width="1.2" fill="none"/>
<path d="M1026.4,968.1 q0.5,1.2 1.6,-0.5" stroke="#8080c8" stroke-width="1.2" fill="none"/>
<path d="M912.0,966.5 q2.0,-0.8 2.4,0.4" stroke="#7474c4" stroke-width="1.2" fill="none"/>
<path d="M928.7,966.7 q-1.2,-1.4 -2.9,-0.4" stroke="#8a8ad0" stroke-width="1.2" fill="none"/>
<path d="M878.9,967.6 q-2.4,1.4 -3.4,-0.3" stroke="#9c9cd8" stroke-width="1.2" fill="none"/>
<path d="M932.9,963.0 q-2.3,-0.8 -2.9,0.2" stroke="#6060b4" stroke-width="1.2" fill="none"/>
<path d="M970.8,962.3 q-1.3,-1.0 -2.9,-0.9" stroke="#8080c8" stroke-width="1.2" fill="none"/>
<path d="M1023.3,968.4 q0.5,1.2 -0.1,-0.1" stroke="#ffffff" stroke-width="1.2" fill="none"/>
<path d="M1059.2,964.6 q-0.2,1.1 -0.6,-0.2" stroke="#8a8ad0" stroke-width="1.2" fill="none"/>
<path d="M893.2,961.9 q-0.4,1.0 0.3,0.8" stroke="#8a8ad0" stroke-width="1.2" fill="none"/>
<path d="M1064.3,968.9 q-0.7,1.2 0.3,0.6" stroke="#6060b4" stroke-width="1.2" fill="none"/>
<path d="M1059.8,964.2 q-0.5,-1.3 -0.4,-0.2" stroke="#6060b4" stroke-width="1.2" fill="none"/>
<path d="M917.9,961.5 q1.3,1.1 2.1,0.3" stroke="#ffffff" stroke-width="1.2" fill="none"/>
<path d="M1065.4,967.0 q1.1,-0.4 0.8,-0.0" stroke="#8a8ad0" stroke-width="1.2" fill="none"/>
<path d="M1020.2,961.8 q-0.6,-1.0 -1.7,-0.3" stroke="#8080c8" stroke-width="1.2" fill="none"/>
<line x1="975.3" y1="820.5" x2="975.3" y2="955" stroke="#3c3c3c" stroke-width="1.5"/>
<line x1="988.9" y1="820.5" x2="988.9" y2="955" stroke="#3c3c3c" stroke-width="1.5"/>
<rect x="972.9" y="954.5" width="17.4" height="14" fill="#fff" stroke="#303030" stroke-width="1.7"/>
<circle cx="982" cy="961" r="2" fill="#888" stroke="#303030" stroke-width="1.2"/>
<path d="M963.8,971.6 Q965,968.2 969,968.2 H994.5 Q998,968.2 999,971.6 Z" fill="#1a1a1a"/>
<line x1="968.8" y1="971.5" x2="968.8" y2="987.3" stroke="#3a3a3a" stroke-width="2.8"/>
<line x1="994.3" y1="971.5" x2="994.3" y2="987.3" stroke="#303030" stroke-width="2.8"/>
<polyline points="987.5,883 1081,804.5 1205,804.5" stroke="#c84a68" stroke-width="1.45" fill="none"/>
<polyline points="1003.7,976 1098.7,907 1272,907" stroke="#c84a68" stroke-width="1.45" fill="none"/>
<polyline points="1116,965.5 1202.5,974 1374.5,974" stroke="#c84a68" stroke-width="1.45" fill="none"/>
<polyline points="1077.5,990 1216,1027.5 1380,1027.5" stroke="#c84a68" stroke-width="1.45" fill="none"/>
<text transform="translate(1086.34 795.50) scale(1.0621 1)" font-size="17.0" fill="#282828" stroke="#282828" stroke-width="0.5">poste metálico</text>
<text transform="translate(1106.73 882.00) scale(1.0516 1)" font-size="17.0" fill="#282828" stroke="#282828" stroke-width="0.5">tornillo de fijación</text>
<text transform="translate(1106.37 903.70) scale(1.0606 1)" font-size="17.0" fill="#282828" stroke="#282828" stroke-width="0.5">Ø8x80 (4 uds)</text>
<text transform="translate(1214.78 947.00) scale(1.0614 1)" font-size="17.0" fill="#282828" stroke="#282828" stroke-width="0.5">loseta de caucho o</text>
<text transform="translate(1214.84 968.20) scale(1.0575 1)" font-size="17.0" fill="#282828" stroke="#282828" stroke-width="0.5">pavimento contínuo</text>
<text transform="translate(1223.20 1025.00) scale(1.0580 1)" font-size="17.0" fill="#282828" stroke="#282828" stroke-width="0.5">solera de hormigón</text>
</g>
<path d="M795.5,1116 V1113 H799" stroke="#dcdcdc" stroke-width="1" fill="none"/>
<rect x="792" y="1053" width="10" height="6" fill="#f6f6f6"/>
</g>
</svg>
</body>
</html>
